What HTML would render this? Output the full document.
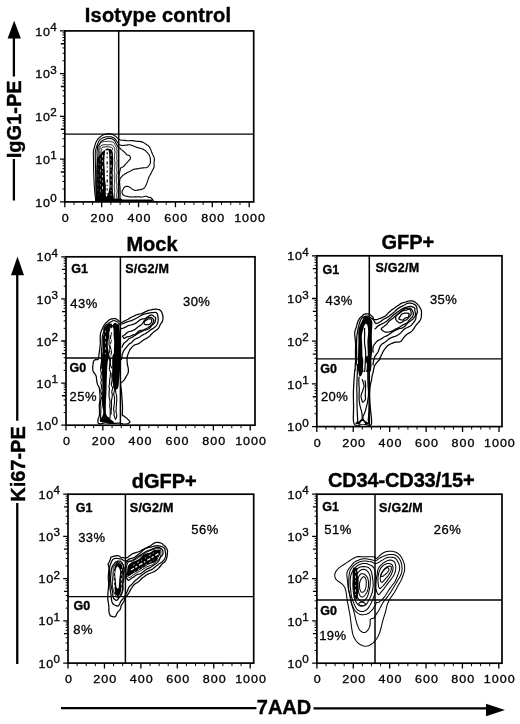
<!DOCTYPE html>
<html><head><meta charset="utf-8"><title>Figure</title>
<style>html,body{margin:0;padding:0;background:#fff}svg{display:block}</style></head>
<body>
<svg width="520" height="724" viewBox="0 0 520 724" font-family='"Liberation Sans", Arial, Helvetica, sans-serif' fill="#000">
<rect width="520" height="724" fill="#fff"/>
<rect x="64.8" y="30.9" width="188.90" height="171.00" fill="none" stroke="#000" stroke-width="1.7"/>
<line x1="118.7" y1="30.9" x2="118.7" y2="201.9" stroke="#000" stroke-width="1.5"/>
<line x1="64.8" y1="134.1" x2="253.7" y2="134.1" stroke="#000" stroke-width="1.4"/>
<path d="M60.00 201.90H64.8 M60.80 172.02H64.8 M60.00 159.15H64.8 M60.80 129.27H64.8 M60.00 116.40H64.8 M60.80 86.52H64.8 M60.00 73.65H64.8 M60.80 43.77H64.8 M60.00 30.90H64.8 M64.80 201.9V207.30 M101.68 201.9V207.30 M138.56 201.9V207.30 M175.44 201.9V207.30 M212.32 201.9V207.30 M249.20 201.9V207.30" stroke="#000" stroke-width="1.3" fill="none"/>
<path d="M62.50 189.03H64.8 M62.50 181.50H64.8 M62.50 176.16H64.8 M62.50 168.63H64.8 M62.50 165.77H64.8 M62.50 163.29H64.8 M62.50 161.11H64.8 M62.50 146.28H64.8 M62.50 138.75H64.8 M62.50 133.41H64.8 M62.50 125.88H64.8 M62.50 123.02H64.8 M62.50 120.54H64.8 M62.50 118.36H64.8 M62.50 103.53H64.8 M62.50 96.00H64.8 M62.50 90.66H64.8 M62.50 83.13H64.8 M62.50 80.27H64.8 M62.50 77.79H64.8 M62.50 75.61H64.8 M62.50 60.78H64.8 M62.50 53.25H64.8 M62.50 47.91H64.8 M62.50 40.38H64.8 M62.50 37.52H64.8 M62.50 35.04H64.8 M62.50 32.86H64.8 M74.02 201.9V204.90 M83.24 201.9V204.90 M92.46 201.9V204.90 M110.90 201.9V204.90 M120.12 201.9V204.90 M129.34 201.9V204.90 M147.78 201.9V204.90 M157.00 201.9V204.90 M166.22 201.9V204.90 M184.66 201.9V204.90 M193.88 201.9V204.90 M203.10 201.9V204.90 M221.54 201.9V204.90 M230.76 201.9V204.90 M239.98 201.9V204.90" stroke="#000" stroke-width="1.0" fill="none"/>
<text transform="translate(35.30 206.50) scale(1.12 1)" font-size="11.2" letter-spacing="0.6" stroke="#000" stroke-width="0.3">10<tspan font-size="10.4" dy="-4.6" dx="-0.3">0</tspan></text>
<text transform="translate(35.30 163.75) scale(1.12 1)" font-size="11.2" letter-spacing="0.6" stroke="#000" stroke-width="0.3">10<tspan font-size="10.4" dy="-4.6" dx="-0.3">1</tspan></text>
<text transform="translate(35.30 121.00) scale(1.12 1)" font-size="11.2" letter-spacing="0.6" stroke="#000" stroke-width="0.3">10<tspan font-size="10.4" dy="-4.6" dx="-0.3">2</tspan></text>
<text transform="translate(35.30 78.25) scale(1.12 1)" font-size="11.2" letter-spacing="0.6" stroke="#000" stroke-width="0.3">10<tspan font-size="10.4" dy="-4.6" dx="-0.3">3</tspan></text>
<text transform="translate(35.30 35.50) scale(1.12 1)" font-size="11.2" letter-spacing="0.6" stroke="#000" stroke-width="0.3">10<tspan font-size="10.4" dy="-4.6" dx="-0.3">4</tspan></text>
<text transform="translate(65.70 222.10) scale(1.12 1)" font-size="11.2" text-anchor="middle" letter-spacing="0.9" stroke="#000" stroke-width="0.3">0</text>
<text transform="translate(102.58 222.10) scale(1.12 1)" font-size="11.2" text-anchor="middle" letter-spacing="0.9" stroke="#000" stroke-width="0.3">200</text>
<text transform="translate(139.46 222.10) scale(1.12 1)" font-size="11.2" text-anchor="middle" letter-spacing="0.9" stroke="#000" stroke-width="0.3">400</text>
<text transform="translate(176.34 222.10) scale(1.12 1)" font-size="11.2" text-anchor="middle" letter-spacing="0.9" stroke="#000" stroke-width="0.3">600</text>
<text transform="translate(213.22 222.10) scale(1.12 1)" font-size="11.2" text-anchor="middle" letter-spacing="0.9" stroke="#000" stroke-width="0.3">800</text>
<text transform="translate(250.10 222.10) scale(1.12 1)" font-size="11.2" text-anchor="middle" letter-spacing="0.9" stroke="#000" stroke-width="0.3">1000</text>
<text x="84.8" y="21.5" font-size="20" font-weight="bold" letter-spacing="0.2" stroke="#000" stroke-width="0.4">Isotype control</text>
<rect x="66.0" y="256.8" width="189.00" height="168.40" fill="none" stroke="#000" stroke-width="1.7"/>
<line x1="120.4" y1="256.8" x2="120.4" y2="425.2" stroke="#000" stroke-width="1.5"/>
<line x1="66.0" y1="358.0" x2="255.0" y2="358.0" stroke="#000" stroke-width="1.4"/>
<path d="M61.20 425.20H66.0 M62.00 395.77H66.0 M61.20 383.10H66.0 M62.00 353.67H66.0 M61.20 341.00H66.0 M62.00 311.57H66.0 M61.20 298.90H66.0 M62.00 269.47H66.0 M61.20 256.80H66.0 M66.00 425.2V430.60 M102.84 425.2V430.60 M139.68 425.2V430.60 M176.52 425.2V430.60 M213.36 425.2V430.60 M250.20 425.2V430.60" stroke="#000" stroke-width="1.3" fill="none"/>
<path d="M63.70 412.53H66.0 M63.70 405.11H66.0 M63.70 399.85H66.0 M63.70 392.44H66.0 M63.70 389.62H66.0 M63.70 387.18H66.0 M63.70 385.03H66.0 M63.70 370.43H66.0 M63.70 363.01H66.0 M63.70 357.75H66.0 M63.70 350.34H66.0 M63.70 347.52H66.0 M63.70 345.08H66.0 M63.70 342.93H66.0 M63.70 328.33H66.0 M63.70 320.91H66.0 M63.70 315.65H66.0 M63.70 308.24H66.0 M63.70 305.42H66.0 M63.70 302.98H66.0 M63.70 300.83H66.0 M63.70 286.23H66.0 M63.70 278.81H66.0 M63.70 273.55H66.0 M63.70 266.14H66.0 M63.70 263.32H66.0 M63.70 260.88H66.0 M63.70 258.73H66.0 M75.21 425.2V428.20 M84.42 425.2V428.20 M93.63 425.2V428.20 M112.05 425.2V428.20 M121.26 425.2V428.20 M130.47 425.2V428.20 M148.89 425.2V428.20 M158.10 425.2V428.20 M167.31 425.2V428.20 M185.73 425.2V428.20 M194.94 425.2V428.20 M204.15 425.2V428.20 M222.57 425.2V428.20 M231.78 425.2V428.20 M240.99 425.2V428.20" stroke="#000" stroke-width="1.0" fill="none"/>
<text transform="translate(36.50 429.80) scale(1.12 1)" font-size="11.2" letter-spacing="0.6" stroke="#000" stroke-width="0.3">10<tspan font-size="10.4" dy="-4.6" dx="-0.3">0</tspan></text>
<text transform="translate(36.50 387.70) scale(1.12 1)" font-size="11.2" letter-spacing="0.6" stroke="#000" stroke-width="0.3">10<tspan font-size="10.4" dy="-4.6" dx="-0.3">1</tspan></text>
<text transform="translate(36.50 345.60) scale(1.12 1)" font-size="11.2" letter-spacing="0.6" stroke="#000" stroke-width="0.3">10<tspan font-size="10.4" dy="-4.6" dx="-0.3">2</tspan></text>
<text transform="translate(36.50 303.50) scale(1.12 1)" font-size="11.2" letter-spacing="0.6" stroke="#000" stroke-width="0.3">10<tspan font-size="10.4" dy="-4.6" dx="-0.3">3</tspan></text>
<text transform="translate(36.50 261.40) scale(1.12 1)" font-size="11.2" letter-spacing="0.6" stroke="#000" stroke-width="0.3">10<tspan font-size="10.4" dy="-4.6" dx="-0.3">4</tspan></text>
<text transform="translate(66.90 445.40) scale(1.12 1)" font-size="11.2" text-anchor="middle" letter-spacing="0.9" stroke="#000" stroke-width="0.3">0</text>
<text transform="translate(103.74 445.40) scale(1.12 1)" font-size="11.2" text-anchor="middle" letter-spacing="0.9" stroke="#000" stroke-width="0.3">200</text>
<text transform="translate(140.58 445.40) scale(1.12 1)" font-size="11.2" text-anchor="middle" letter-spacing="0.9" stroke="#000" stroke-width="0.3">400</text>
<text transform="translate(177.42 445.40) scale(1.12 1)" font-size="11.2" text-anchor="middle" letter-spacing="0.9" stroke="#000" stroke-width="0.3">600</text>
<text transform="translate(214.26 445.40) scale(1.12 1)" font-size="11.2" text-anchor="middle" letter-spacing="0.9" stroke="#000" stroke-width="0.3">800</text>
<text transform="translate(251.10 445.40) scale(1.12 1)" font-size="11.2" text-anchor="middle" letter-spacing="0.9" stroke="#000" stroke-width="0.3">1000</text>
<text x="126.4" y="250.6" font-size="20" font-weight="bold" letter-spacing="0" stroke="#000" stroke-width="0.4">Mock</text>
<rect x="316.8" y="255.8" width="185.20" height="170.80" fill="none" stroke="#000" stroke-width="1.7"/>
<line x1="369.3" y1="255.8" x2="369.3" y2="426.6" stroke="#000" stroke-width="1.5"/>
<line x1="316.8" y1="358.9" x2="502.0" y2="358.9" stroke="#000" stroke-width="1.4"/>
<path d="M312.00 426.60H316.8 M312.80 396.75H316.8 M312.00 383.90H316.8 M312.80 354.05H316.8 M312.00 341.20H316.8 M312.80 311.35H316.8 M312.00 298.50H316.8 M312.80 268.65H316.8 M312.00 255.80H316.8 M316.80 426.6V432.00 M353.24 426.6V432.00 M389.68 426.6V432.00 M426.12 426.6V432.00 M462.56 426.6V432.00 M499.00 426.6V432.00" stroke="#000" stroke-width="1.3" fill="none"/>
<path d="M314.50 413.75H316.8 M314.50 406.23H316.8 M314.50 400.89H316.8 M314.50 393.37H316.8 M314.50 390.51H316.8 M314.50 388.04H316.8 M314.50 385.85H316.8 M314.50 371.05H316.8 M314.50 363.53H316.8 M314.50 358.19H316.8 M314.50 350.67H316.8 M314.50 347.81H316.8 M314.50 345.34H316.8 M314.50 343.15H316.8 M314.50 328.35H316.8 M314.50 320.83H316.8 M314.50 315.49H316.8 M314.50 307.97H316.8 M314.50 305.11H316.8 M314.50 302.64H316.8 M314.50 300.45H316.8 M314.50 285.65H316.8 M314.50 278.13H316.8 M314.50 272.79H316.8 M314.50 265.27H316.8 M314.50 262.41H316.8 M314.50 259.94H316.8 M314.50 257.75H316.8 M325.91 426.6V429.60 M335.02 426.6V429.60 M344.13 426.6V429.60 M362.35 426.6V429.60 M371.46 426.6V429.60 M380.57 426.6V429.60 M398.79 426.6V429.60 M407.90 426.6V429.60 M417.01 426.6V429.60 M435.23 426.6V429.60 M444.34 426.6V429.60 M453.45 426.6V429.60 M471.67 426.6V429.60 M480.78 426.6V429.60 M489.89 426.6V429.60" stroke="#000" stroke-width="1.0" fill="none"/>
<text transform="translate(287.30 431.20) scale(1.12 1)" font-size="11.2" letter-spacing="0.6" stroke="#000" stroke-width="0.3">10<tspan font-size="10.4" dy="-4.6" dx="-0.3">0</tspan></text>
<text transform="translate(287.30 388.50) scale(1.12 1)" font-size="11.2" letter-spacing="0.6" stroke="#000" stroke-width="0.3">10<tspan font-size="10.4" dy="-4.6" dx="-0.3">1</tspan></text>
<text transform="translate(287.30 345.80) scale(1.12 1)" font-size="11.2" letter-spacing="0.6" stroke="#000" stroke-width="0.3">10<tspan font-size="10.4" dy="-4.6" dx="-0.3">2</tspan></text>
<text transform="translate(287.30 303.10) scale(1.12 1)" font-size="11.2" letter-spacing="0.6" stroke="#000" stroke-width="0.3">10<tspan font-size="10.4" dy="-4.6" dx="-0.3">3</tspan></text>
<text transform="translate(287.30 260.40) scale(1.12 1)" font-size="11.2" letter-spacing="0.6" stroke="#000" stroke-width="0.3">10<tspan font-size="10.4" dy="-4.6" dx="-0.3">4</tspan></text>
<text transform="translate(317.70 446.80) scale(1.12 1)" font-size="11.2" text-anchor="middle" letter-spacing="0.9" stroke="#000" stroke-width="0.3">0</text>
<text transform="translate(354.14 446.80) scale(1.12 1)" font-size="11.2" text-anchor="middle" letter-spacing="0.9" stroke="#000" stroke-width="0.3">200</text>
<text transform="translate(390.58 446.80) scale(1.12 1)" font-size="11.2" text-anchor="middle" letter-spacing="0.9" stroke="#000" stroke-width="0.3">400</text>
<text transform="translate(427.02 446.80) scale(1.12 1)" font-size="11.2" text-anchor="middle" letter-spacing="0.9" stroke="#000" stroke-width="0.3">600</text>
<text transform="translate(463.46 446.80) scale(1.12 1)" font-size="11.2" text-anchor="middle" letter-spacing="0.9" stroke="#000" stroke-width="0.3">800</text>
<text transform="translate(499.90 446.80) scale(1.12 1)" font-size="11.2" text-anchor="middle" letter-spacing="0.9" stroke="#000" stroke-width="0.3">1000</text>
<text x="381.5" y="249.4" font-size="20" font-weight="bold" letter-spacing="0" stroke="#000" stroke-width="0.4">GFP+</text>
<rect x="68.0" y="494.2" width="185.70" height="168.90" fill="none" stroke="#000" stroke-width="1.7"/>
<line x1="125.4" y1="494.2" x2="125.4" y2="663.1" stroke="#000" stroke-width="1.5"/>
<line x1="68.0" y1="596.6" x2="253.7" y2="596.6" stroke="#000" stroke-width="1.4"/>
<path d="M63.20 663.10H68.0 M64.00 633.59H68.0 M63.20 620.88H68.0 M64.00 591.36H68.0 M63.20 578.65H68.0 M64.00 549.14H68.0 M63.20 536.42H68.0 M64.00 506.91H68.0 M63.20 494.20H68.0 M68.00 663.1V668.50 M104.44 663.1V668.50 M140.88 663.1V668.50 M177.32 663.1V668.50 M213.76 663.1V668.50 M250.20 663.1V668.50" stroke="#000" stroke-width="1.3" fill="none"/>
<path d="M65.70 650.39H68.0 M65.70 642.95H68.0 M65.70 637.68H68.0 M65.70 630.24H68.0 M65.70 627.42H68.0 M65.70 624.97H68.0 M65.70 622.81H68.0 M65.70 608.16H68.0 M65.70 600.73H68.0 M65.70 595.45H68.0 M65.70 588.02H68.0 M65.70 585.19H68.0 M65.70 582.74H68.0 M65.70 580.58H68.0 M65.70 565.94H68.0 M65.70 558.50H68.0 M65.70 553.23H68.0 M65.70 545.79H68.0 M65.70 542.97H68.0 M65.70 540.52H68.0 M65.70 538.36H68.0 M65.70 523.71H68.0 M65.70 516.28H68.0 M65.70 511.00H68.0 M65.70 503.57H68.0 M65.70 500.74H68.0 M65.70 498.29H68.0 M65.70 496.13H68.0 M77.11 663.1V666.10 M86.22 663.1V666.10 M95.33 663.1V666.10 M113.55 663.1V666.10 M122.66 663.1V666.10 M131.77 663.1V666.10 M149.99 663.1V666.10 M159.10 663.1V666.10 M168.21 663.1V666.10 M186.43 663.1V666.10 M195.54 663.1V666.10 M204.65 663.1V666.10 M222.87 663.1V666.10 M231.98 663.1V666.10 M241.09 663.1V666.10" stroke="#000" stroke-width="1.0" fill="none"/>
<text transform="translate(38.50 667.70) scale(1.12 1)" font-size="11.2" letter-spacing="0.6" stroke="#000" stroke-width="0.3">10<tspan font-size="10.4" dy="-4.6" dx="-0.3">0</tspan></text>
<text transform="translate(38.50 625.48) scale(1.12 1)" font-size="11.2" letter-spacing="0.6" stroke="#000" stroke-width="0.3">10<tspan font-size="10.4" dy="-4.6" dx="-0.3">1</tspan></text>
<text transform="translate(38.50 583.25) scale(1.12 1)" font-size="11.2" letter-spacing="0.6" stroke="#000" stroke-width="0.3">10<tspan font-size="10.4" dy="-4.6" dx="-0.3">2</tspan></text>
<text transform="translate(38.50 541.02) scale(1.12 1)" font-size="11.2" letter-spacing="0.6" stroke="#000" stroke-width="0.3">10<tspan font-size="10.4" dy="-4.6" dx="-0.3">3</tspan></text>
<text transform="translate(38.50 498.80) scale(1.12 1)" font-size="11.2" letter-spacing="0.6" stroke="#000" stroke-width="0.3">10<tspan font-size="10.4" dy="-4.6" dx="-0.3">4</tspan></text>
<text transform="translate(68.90 683.30) scale(1.12 1)" font-size="11.2" text-anchor="middle" letter-spacing="0.9" stroke="#000" stroke-width="0.3">0</text>
<text transform="translate(105.34 683.30) scale(1.12 1)" font-size="11.2" text-anchor="middle" letter-spacing="0.9" stroke="#000" stroke-width="0.3">200</text>
<text transform="translate(141.78 683.30) scale(1.12 1)" font-size="11.2" text-anchor="middle" letter-spacing="0.9" stroke="#000" stroke-width="0.3">400</text>
<text transform="translate(178.22 683.30) scale(1.12 1)" font-size="11.2" text-anchor="middle" letter-spacing="0.9" stroke="#000" stroke-width="0.3">600</text>
<text transform="translate(214.66 683.30) scale(1.12 1)" font-size="11.2" text-anchor="middle" letter-spacing="0.9" stroke="#000" stroke-width="0.3">800</text>
<text transform="translate(251.10 683.30) scale(1.12 1)" font-size="11.2" text-anchor="middle" letter-spacing="0.9" stroke="#000" stroke-width="0.3">1000</text>
<text x="131.7" y="487.6" font-size="20" font-weight="bold" letter-spacing="0" stroke="#000" stroke-width="0.4">dGFP+</text>
<rect x="316.9" y="494.2" width="185.10" height="169.00" fill="none" stroke="#000" stroke-width="1.7"/>
<line x1="375.0" y1="494.2" x2="375.0" y2="663.2" stroke="#000" stroke-width="1.5"/>
<line x1="316.9" y1="600.0" x2="502.0" y2="600.0" stroke="#000" stroke-width="1.4"/>
<path d="M312.10 663.20H316.9 M312.90 633.67H316.9 M312.10 620.95H316.9 M312.90 591.42H316.9 M312.10 578.70H316.9 M312.90 549.17H316.9 M312.10 536.45H316.9 M312.90 506.92H316.9 M312.10 494.20H316.9 M316.90 663.2V668.60 M353.28 663.2V668.60 M389.66 663.2V668.60 M426.04 663.2V668.60 M462.42 663.2V668.60 M498.80 663.2V668.60" stroke="#000" stroke-width="1.3" fill="none"/>
<path d="M314.60 650.48H316.9 M314.60 643.04H316.9 M314.60 637.76H316.9 M314.60 630.32H316.9 M314.60 627.49H316.9 M314.60 625.04H316.9 M314.60 622.88H316.9 M314.60 608.23H316.9 M314.60 600.79H316.9 M314.60 595.51H316.9 M314.60 588.07H316.9 M314.60 585.24H316.9 M314.60 582.79H316.9 M314.60 580.63H316.9 M314.60 565.98H316.9 M314.60 558.54H316.9 M314.60 553.26H316.9 M314.60 545.82H316.9 M314.60 542.99H316.9 M314.60 540.54H316.9 M314.60 538.38H316.9 M314.60 523.73H316.9 M314.60 516.29H316.9 M314.60 511.01H316.9 M314.60 503.57H316.9 M314.60 500.74H316.9 M314.60 498.29H316.9 M314.60 496.13H316.9 M326.00 663.2V666.20 M335.09 663.2V666.20 M344.19 663.2V666.20 M362.38 663.2V666.20 M371.47 663.2V666.20 M380.56 663.2V666.20 M398.75 663.2V666.20 M407.85 663.2V666.20 M416.94 663.2V666.20 M435.13 663.2V666.20 M444.23 663.2V666.20 M453.32 663.2V666.20 M471.51 663.2V666.20 M480.61 663.2V666.20 M489.71 663.2V666.20" stroke="#000" stroke-width="1.0" fill="none"/>
<text transform="translate(287.40 667.80) scale(1.12 1)" font-size="11.2" letter-spacing="0.6" stroke="#000" stroke-width="0.3">10<tspan font-size="10.4" dy="-4.6" dx="-0.3">0</tspan></text>
<text transform="translate(287.40 625.55) scale(1.12 1)" font-size="11.2" letter-spacing="0.6" stroke="#000" stroke-width="0.3">10<tspan font-size="10.4" dy="-4.6" dx="-0.3">1</tspan></text>
<text transform="translate(287.40 583.30) scale(1.12 1)" font-size="11.2" letter-spacing="0.6" stroke="#000" stroke-width="0.3">10<tspan font-size="10.4" dy="-4.6" dx="-0.3">2</tspan></text>
<text transform="translate(287.40 541.05) scale(1.12 1)" font-size="11.2" letter-spacing="0.6" stroke="#000" stroke-width="0.3">10<tspan font-size="10.4" dy="-4.6" dx="-0.3">3</tspan></text>
<text transform="translate(287.40 498.80) scale(1.12 1)" font-size="11.2" letter-spacing="0.6" stroke="#000" stroke-width="0.3">10<tspan font-size="10.4" dy="-4.6" dx="-0.3">4</tspan></text>
<text transform="translate(317.80 683.40) scale(1.12 1)" font-size="11.2" text-anchor="middle" letter-spacing="0.9" stroke="#000" stroke-width="0.3">0</text>
<text transform="translate(354.18 683.40) scale(1.12 1)" font-size="11.2" text-anchor="middle" letter-spacing="0.9" stroke="#000" stroke-width="0.3">200</text>
<text transform="translate(390.56 683.40) scale(1.12 1)" font-size="11.2" text-anchor="middle" letter-spacing="0.9" stroke="#000" stroke-width="0.3">400</text>
<text transform="translate(426.94 683.40) scale(1.12 1)" font-size="11.2" text-anchor="middle" letter-spacing="0.9" stroke="#000" stroke-width="0.3">600</text>
<text transform="translate(463.32 683.40) scale(1.12 1)" font-size="11.2" text-anchor="middle" letter-spacing="0.9" stroke="#000" stroke-width="0.3">800</text>
<text transform="translate(499.70 683.40) scale(1.12 1)" font-size="11.2" text-anchor="middle" letter-spacing="0.9" stroke="#000" stroke-width="0.3">1000</text>
<text x="328" y="487.2" font-size="20" font-weight="bold" letter-spacing="-0.15" stroke="#000" stroke-width="0.4">CD34-CD33/15+</text>
<path d="M97.2 201.9 96.2 200.2 95.8 197.5 95.7 194.0 95.9 190.0 96.2 185.9 96.3 182.0 96.4 178.2 96.4 174.1 96.4 170.0 96.5 166.2 96.7 162.8 96.8 160.1 97.0 158.3 97.3 157.4 97.6 157.2 97.9 157.4 98.2 157.6 98.5 157.3 98.7 156.7 99.0 156.1 99.3 155.7 99.7 155.3 100.1 154.8 100.5 154.1 100.9 153.4 101.5 152.7 102.1 152.0 102.8 151.5 103.5 151.0 104.2 150.5 104.9 149.9 105.5 149.4 106.1 148.9 106.7 148.7 107.3 148.5 107.8 148.5 108.2 148.6 108.6 148.8 109.0 148.9 109.4 148.9 109.8 148.9 110.0 148.9 110.2 149.0 110.4 149.1 110.7 149.3 111.1 149.4 111.6 149.9 112.2 151.0 112.6 152.9 112.9 155.5 113.1 158.7 113.1 162.1 112.9 165.5 112.8 168.7 112.6 171.8 112.5 175.0 112.4 178.1 112.4 181.4 112.5 184.8 112.6 188.1 112.8 191.4 113.3 194.5 113.7 197.3 113.9 199.7 113.7 201.5 112.8 201.9 111.0 201.9 108.2 201.9 105.0 201.9 101.9 201.9 99.1 201.9Z" fill="#000" stroke="none"/>
<path d="M105.1 151.2 104.9 153.1 104.6 155.7 104.4 158.8 104.3 162.3 104.5 165.8 104.7 168.9 104.8 171.8 104.9 174.6 104.9 177.3 105.1 179.9 105.4 182.4 105.7 184.6 105.9 186.7 105.9 188.8 105.7 190.9 105.7 192.8 105.8 194.5 106.0 195.8 106.2 196.6 106.4 196.9 106.6 196.8 106.9 196.4 107.3 195.6 107.8 194.6 108.3 193.3 108.7 191.7 109.1 189.8 109.4 187.7 109.5 185.6 109.5 183.6 109.4 181.7 109.4 179.6 109.3 177.1 109.4 174.3 109.4 171.3 109.5 168.3 109.5 165.4 109.4 162.4 109.4 159.6 109.3 157.0 109.2 154.6 109.0 152.6 108.8 151.2 108.5 150.3 108.2 150.0 107.9 150.1 107.6 150.4 107.4 150.6 107.0 150.5 106.5 150.3 106.0 150.0 105.7 149.9 105.4 150.3Z" fill="#fff" stroke="none"/>
<path d="M107.2 152.2V195.3" stroke="#000" stroke-width="1.2" stroke-dasharray="2 2.6 1.2 3.4 3 2.2 1 2.8" fill="none"/>
<path d="M98.2 163.0V195.3M100.4 158.3V193.9M102.5 154.9V191.3M111.1 153.6V195.3" stroke="#fff" stroke-width="0.8" stroke-dasharray="2.5 3 1.5 4 3 2 1 3.3" fill="none"/>
<path d="M95.8 201.4 95.8 200.5 95.7 199.5 95.5 198.3 95.3 196.8 95.0 194.9 94.8 192.7 94.6 190.1 94.4 187.4 94.2 184.5 94.1 181.5 93.9 178.5 93.8 175.3 93.7 171.9 93.6 168.3 93.6 164.7 93.5 161.2 93.5 157.9 93.4 155.1 93.3 152.9 93.4 151.2 93.6 149.9 93.9 148.9 94.3 147.8 94.6 146.6 94.9 145.3 95.3 144.2 95.6 143.1 96.0 142.2 96.5 141.4 96.9 140.6 97.4 139.7 98.1 138.8 98.9 138.0 99.8 137.2 100.7 136.5 101.6 135.9 102.5 135.3 103.5 134.8 104.6 134.4 105.7 134.1 106.9 133.9 107.9 133.7 109.0 133.6 110.0 133.7 111.0 133.9 112.0 134.3 113.1 134.8 114.1 135.4 115.2 136.0 116.1 136.6 116.8 137.3 117.4 137.8 117.8 138.3 118.1 138.7 118.4 139.0 118.7 139.3 119.1 139.6 119.6 139.8 120.4 140.0 121.2 140.1 122.3 140.2 123.5 140.2 124.8 140.4 126.0 140.6 127.2 140.7 128.4 140.8 129.6 140.7 130.8 140.6 132.0 140.5 133.2 140.6 134.3 140.9 135.4 141.1 136.4 141.3 137.3 141.4 138.4 141.4 139.6 141.4 140.9 141.6 142.2 141.9 143.4 142.5 144.4 143.1 145.3 143.7 146.1 144.2 146.8 144.7 147.6 145.2 148.4 145.9 149.1 146.7 149.8 147.6 150.3 148.7 150.8 149.7 151.1 150.6 151.5 151.6 151.8 152.6 152.3 153.7 152.8 154.8 153.4 156.0 153.9 157.1 154.3 158.3 154.4 159.5 154.3 160.7 154.1 162.0 154.0 163.2 154.0 164.3 154.1 165.4 154.2 166.3 154.0 167.3 153.6 168.4 153.0 169.4 152.5 170.3 152.0 171.3 151.5 172.4 151.0 173.4 150.3 174.5 149.7 175.7 149.1 176.7 148.7 177.7 148.4 178.5 148.2 179.2 148.0 179.9 147.7 180.7 147.4 181.6 147.0 182.6 146.6 183.7 146.2 184.7 145.7 185.6 145.3 186.5 144.8 187.3 144.3 188.0 143.6 188.5 142.8 188.9 142.0 189.2 141.2 189.4 140.4 189.6 139.6 189.7 138.7 189.9 137.7 190.1 136.8 190.3 135.8 190.5 134.9 190.4 134.0 190.1 133.0 189.6 132.2 189.1 131.4 188.5 130.7 187.9 130.0 187.4 129.4 187.0 128.8 186.7 128.2 186.5 127.6 186.4 126.9 186.4 126.3 186.4 125.7 186.5 125.1 186.7 124.6 187.1 124.1 187.5 123.8 188.0 123.5 188.5 123.3 189.0 123.1 189.4 122.9 189.7 122.7 190.0 122.4 190.5 122.2 191.0 122.0 191.5 122.0 192.1 122.1 192.7 122.2 193.3 122.4 193.9 122.8 194.5 123.3 195.0 124.0 195.4 124.9 195.8 125.9 196.1 127.0 196.3 128.1 196.6 129.3 196.8 130.6 196.9 131.9 197.0 133.0 197.0 134.1 196.9 135.1 196.9 136.1 196.9 137.2 196.8 138.4 196.8 139.6 196.9 140.7 197.0 141.6 197.0 142.5 197.0 143.4 196.8 144.3 196.5 145.3 196.3 146.2 196.3 147.1 196.6 148.0 197.0 148.7 197.4 149.3 197.5 149.7 197.5 150.1 197.4 150.6 197.5 151.2 197.9 151.9 198.7 152.6 199.6 153.1 200.4 153.5 201.0 153.7 201.4" fill="none" stroke="#000" stroke-width="1.1" stroke-linejoin="round"/>
<path d="M96.8 201.4 96.6 199.5 96.3 196.7 96.1 193.4 95.9 189.6 95.8 185.7 95.7 181.8 95.7 177.6 95.6 172.9 95.5 168.0 95.4 163.2 95.3 158.9 95.3 155.5 95.3 153.1 95.4 151.3 95.6 150.1 95.9 149.1 96.1 148.3 96.4 147.3 96.8 146.2 97.2 145.1 97.6 144.0 98.0 143.1 98.4 142.2 98.8 141.3 99.3 140.5 99.9 139.8 100.7 139.1 101.5 138.6 102.3 138.1 103.1 137.8 103.9 137.5 104.8 137.2 105.7 136.9 106.7 136.8 107.7 136.7 108.7 136.7 109.7 136.7 110.6 136.8 111.5 136.9 112.3 137.2 113.0 137.5 113.6 137.8 114.2 138.2 114.7 138.7 115.3 139.2 115.8 139.8 116.2 140.4 116.7 141.0 117.2 141.7 117.6 142.4 118.1 143.2 118.6 143.9 119.0 144.5 119.5 144.8 120.0 145.0 120.3 145.1 120.5 145.2 120.7 145.2 121.1 145.3 121.8 145.4 122.8 145.5 124.0 145.4 125.2 145.3 126.5 145.1 127.6 144.9 128.7 144.7 129.8 144.7 130.9 145.0 132.0 145.4 133.1 145.8 134.2 146.3 135.2 146.7 136.1 147.1 137.1 147.4 138.0 147.7 138.9 147.9 139.9 148.2 140.8 148.5 141.8 148.8 142.8 149.1 143.7 149.6 144.7 150.2 145.6 150.9 146.4 151.6 147.1 152.3 147.7 153.0 148.2 153.8 148.8 154.5 149.3 155.3 149.7 156.1 150.0 156.9 150.1 157.8 150.3 158.6 150.4 159.5 150.4 160.4 150.5 161.2 150.5 162.0 150.4 162.8 150.3 163.4 149.9 164.0 149.5 164.7 149.1 165.3 148.6 165.9 148.2 166.5 147.8 167.0 147.2 167.3 146.6 167.6 145.8 167.7 145.0 167.8 144.2 167.8 143.2 167.9 142.1 168.0 141.0 168.1 139.9 168.3 138.8 168.5 137.9 168.7 137.0 168.9 136.2 168.9 135.5 169.0 134.7 169.1 134.0 169.3 133.2 169.6 132.3 170.0 131.5 170.5 130.6 171.0 129.6 171.5 128.7 171.9 127.8 172.3 126.9 172.7 126.2 173.2 125.6 173.6 124.9 174.0 124.2 174.5 123.6 174.9 123.0 175.2 122.5 175.6 122.2 176.0 122.0 176.4 121.8 176.7 121.4 177.0 121.0 177.4 120.5 178.0 120.1 178.8 119.8 179.8 119.6 181.1 119.6 182.5 119.7 184.0 119.8 185.5 120.0 187.0 120.1 188.5 120.1 190.1 120.1 191.8 120.1 193.4 120.1 195.0 120.1 196.4 120.0 197.6 120.1 198.7 120.4 199.6 120.8 200.2 121.1 200.7 121.3 201.0 121.4 201.4" fill="none" stroke="#000" stroke-width="1.1" stroke-linejoin="round"/>
<path d="M97.3 201.5 97.2 199.5 97.2 196.7 97.1 193.4 97.0 189.6 96.9 185.8 96.9 181.9 97.0 177.6 97.1 172.7 97.2 167.6 97.3 162.8 97.2 158.4 97.1 155.0 97.0 152.6 97.1 151.1 97.2 150.2 97.4 149.5 97.4 148.9 97.5 148.0 97.6 147.0 97.8 146.1 98.3 145.4 98.9 144.8 99.4 144.2 99.9 143.6 100.2 142.9 100.6 142.2 101.1 141.5 101.8 140.9 102.6 140.4 103.5 140.0 104.4 139.6 105.3 139.3 106.1 138.9 106.8 138.7 107.5 138.5 108.3 138.4 109.1 138.4 110.0 138.5 110.9 138.6 111.7 138.8 112.4 139.1 113.2 139.5 113.9 140.0 114.5 140.5 114.9 141.1 115.2 141.7 115.4 142.3 115.7 142.9 116.1 143.4 116.5 144.1 116.9 144.7 117.2 145.4 117.5 146.1 117.8 146.7 118.1 147.1 118.4 147.3 118.7 147.4 119.0 147.5 119.3 147.6 119.6 147.8 120.0 148.2 120.5 148.7 121.0 149.3 121.7 149.9 122.4 150.4 123.2 151.0 123.9 151.6 124.6 152.3 125.2 152.9 125.8 153.6 126.3 154.2 126.8 154.7 127.4 155.0 128.0 155.1 128.7 155.3 129.4 155.6 129.9 156.1 130.3 156.8 130.5 157.5 130.5 158.2 130.3 158.8 129.9 159.5 129.3 160.1 128.8 160.7 128.2 161.3 127.6 161.9 127.2 162.4 126.7 162.9 126.3 163.4 125.8 163.9 125.4 164.4 124.9 164.9 124.5 165.5 124.0 166.0 123.4 166.5 122.7 166.9 122.0 167.2 121.5 167.5 121.0 167.7 120.6 168.1 120.3 168.7 120.2 169.3 120.1 169.8 120.1 170.2 120.0 170.8 119.8 171.4 119.6 172.4 119.2 173.8 119.0 175.7 118.8 178.0 118.7 180.7 118.7 183.4 118.7 186.1 118.7 188.5 118.6 190.9 118.5 193.4 118.5 195.8 118.5 198.0 118.5 200.0 118.5 201.4" fill="none" stroke="#000" stroke-width="1.1" stroke-linejoin="round"/>
<path d="M98.6 202.0 98.6 201.5 98.6 201.0 98.6 200.5 98.6 200.0 98.6 199.5 98.6 199.0 98.5 198.5 98.5 198.2 98.4 197.8 98.4 197.2 98.5 196.8 98.5 196.2 98.5 196.0 98.5 195.5 98.5 195.0 98.5 194.5 98.5 194.0 98.5 193.5 98.5 193.0 98.5 192.8 98.4 192.2 98.4 191.8 98.3 191.2 98.3 190.8 98.3 190.2 98.3 189.8 98.4 189.2 98.4 188.8 98.3 188.2 98.3 187.8 98.3 187.2 98.4 186.8 98.4 186.2 98.4 185.8 98.5 185.2 98.5 184.8 98.5 184.2 98.5 184.0 98.5 183.5 98.5 183.0 98.5 182.8 98.5 182.2 98.4 181.8 98.3 181.2 98.3 180.8 98.2 180.5 98.3 180.2 98.3 179.8 98.4 179.2 98.5 179.0 98.6 178.5 98.6 178.0 98.6 177.5 98.6 177.0 98.6 176.5 98.6 176.0 98.6 175.5 98.5 175.0 98.5 174.5 98.5 174.0 98.5 173.5 98.5 173.2 98.5 172.8 98.4 172.2 98.4 171.8 98.4 171.2 98.5 170.8 98.5 170.2 98.5 169.8 98.5 169.2 98.5 168.8 98.4 168.2 98.4 167.8 98.5 167.2 98.5 166.8 98.5 166.5 98.5 166.0 98.6 165.5 98.6 165.0 98.7 164.5 98.7 164.0 98.7 163.5 98.7 163.0 98.7 162.5 98.6 162.0 98.5 161.5 98.5 161.1 98.5 160.8 98.5 160.2 98.5 159.8 98.5 159.5 98.5 159.0 98.5 158.5 98.6 158.0 98.6 157.5 98.6 157.0 98.6 156.5 98.6 156.0 98.6 155.5 98.6 155.0 98.6 154.5 98.6 154.0 98.6 153.5 98.5 153.0 98.5 152.5 98.5 152.2 98.5 151.8 98.4 151.2 98.4 150.8 98.5 150.2 98.5 150.0 98.6 149.5 98.7 149.0 98.7 148.5 98.8 148.2 98.8 147.8 98.9 147.2 99.0 146.8 99.0 146.5 99.1 146.0 99.1 145.5 99.2 145.2 99.5 144.8 99.6 144.5 99.8 144.2 100.0 143.8 100.1 143.5 100.2 143.0 100.4 142.8 100.6 142.5 100.8 142.2 101.2 142.1 101.8 142.1 102.2 142.0 102.5 142.0 103.0 141.8 103.2 141.7 103.8 141.6 104.1 141.5 104.5 141.5 105.0 141.5 105.2 141.5 105.8 141.6 106.2 141.6 106.8 141.6 107.1 141.5 107.5 141.4 107.9 141.2 108.2 141.2 108.8 141.2 109.2 141.2 109.5 141.3 110.0 141.5 110.2 141.6 110.8 141.7 111.2 141.7 111.5 141.8 112.0 141.8 112.5 141.9 112.8 142.1 113.1 142.2 113.4 142.5 113.7 142.8 114.0 143.0 114.2 143.2 114.4 143.5 114.5 143.8 114.7 144.2 114.8 144.5 115.0 144.9 115.2 145.2 115.3 145.5 115.5 145.8 115.8 146.2 115.9 146.5 116.1 146.8 116.3 147.0 116.5 147.5 116.6 147.8 116.7 148.2 116.8 148.5 116.8 149.0 116.8 149.5 116.9 150.0 117.0 150.5 117.1 150.8 117.1 151.2 117.0 151.8 117.0 152.0 116.9 152.5 116.8 153.0 116.8 153.5 116.8 154.0 116.8 154.5 116.8 155.0 116.9 155.5 116.9 156.0 116.9 156.5 116.9 157.0 116.8 157.5 116.7 157.8 116.6 158.2 116.6 158.8 116.8 159.1 116.9 159.5 117.0 159.8 117.1 160.2 117.1 160.8 117.1 161.2 117.0 161.7 117.0 162.0 116.9 162.5 116.9 163.0 116.9 163.5 116.9 164.0 117.0 164.5 117.0 164.8 117.1 165.2 117.0 165.8 117.0 166.2 116.9 166.5 116.9 167.0 116.8 167.5 116.8 168.0 116.7 168.2 116.7 168.8 116.7 169.2 116.6 169.8 116.7 170.2 116.8 170.7 116.8 171.0 116.9 171.5 117.0 171.9 117.1 172.2 117.1 172.8 117.1 173.2 117.0 173.8 117.0 174.0 116.8 174.5 116.7 174.8 116.6 175.2 116.6 175.8 116.7 176.2 116.7 176.8 116.8 177.2 116.8 177.4 116.7 177.8 116.7 178.2 116.6 178.8 116.6 179.2 116.5 179.6 116.4 180.0 116.4 180.5 116.3 181.0 116.3 181.5 116.4 182.0 116.5 182.3 116.6 182.8 116.8 183.1 116.9 183.5 117.0 184.0 117.0 184.5 116.9 185.0 116.8 185.5 116.8 185.9 116.7 186.2 116.7 186.8 116.7 187.2 116.7 187.8 116.8 188.0 116.8 188.5 116.9 189.0 117.0 189.5 117.0 189.8 117.1 190.2 117.2 190.8 117.2 191.2 117.2 191.8 117.1 192.2 117.0 192.5 116.8 193.0 116.8 193.5 116.7 193.8 116.7 194.2 116.7 194.8 116.7 195.2 116.7 195.8 116.8 196.0 116.8 196.5 116.8 197.0 116.9 197.5 116.9 198.0 116.8 198.5 116.8 199.0 116.8 199.5 116.9 200.0 117.0 200.5 117.1 200.8 117.2 201.2 117.2 201.6 117.3 202.0" fill="none" stroke="#000" stroke-width="0.95" stroke-linejoin="round"/>
<path d="M99.8 202.0 99.8 201.5 99.8 201.0 99.8 200.5 99.8 200.0 99.7 199.8 99.7 199.2 99.6 198.8 99.5 198.2 99.5 198.0 99.4 197.5 99.4 197.0 99.5 196.5 99.5 196.0 99.5 195.8 99.6 195.2 99.6 194.8 99.6 194.2 99.7 193.8 99.7 193.2 99.7 192.8 99.6 192.2 99.6 191.8 99.6 191.2 99.6 190.8 99.6 190.2 99.7 189.8 99.6 189.2 99.6 188.8 99.6 188.2 99.6 187.8 99.6 187.2 99.7 186.8 99.7 186.2 99.8 186.0 99.8 185.5 99.8 185.0 99.8 184.5 99.8 184.0 99.7 183.8 99.7 183.2 99.7 182.8 99.7 182.2 99.7 181.8 99.6 181.2 99.6 180.8 99.7 180.2 99.8 179.9 99.9 179.5 100.0 179.0 100.0 178.8 100.0 178.2 100.0 178.0 99.9 177.5 99.8 177.0 99.8 176.6 99.7 176.2 99.7 175.8 99.6 175.2 99.6 174.8 99.6 174.2 99.6 173.8 99.6 173.2 99.6 172.8 99.6 172.2 99.7 171.8 99.7 171.2 99.8 170.9 99.8 170.5 99.8 170.0 99.8 169.5 99.8 169.0 99.8 168.5 99.7 168.2 99.7 167.8 99.7 167.2 99.7 166.8 99.7 166.2 99.7 165.8 99.8 165.5 99.9 165.0 100.0 164.5 100.0 164.2 100.0 163.8 100.0 163.4 100.0 163.0 99.9 162.5 99.9 162.0 99.8 161.5 99.8 161.0 99.8 160.7 99.7 160.2 99.8 160.0 99.8 159.5 99.8 159.0 99.9 158.5 99.9 158.0 99.9 157.5 99.8 157.0 99.8 156.5 99.8 156.0 99.8 155.5 99.8 155.0 99.8 154.5 99.8 154.0 99.8 153.5 99.7 153.2 99.7 152.8 99.7 152.2 99.7 151.8 99.7 151.2 99.7 150.8 99.8 150.5 99.8 150.0 99.9 149.5 99.9 149.0 99.9 148.5 100.0 148.0 100.0 147.8 100.2 147.2 100.2 146.9 100.4 146.5 100.5 146.2 100.8 145.9 101.0 145.6 101.2 145.5 101.8 145.3 102.0 145.2 102.5 145.1 102.9 145.0 103.2 144.9 103.8 144.8 104.2 144.8 104.5 144.7 105.0 144.7 105.5 144.6 106.0 144.7 106.2 144.8 106.8 144.9 107.2 144.9 107.8 144.9 108.2 144.8 108.5 144.7 109.0 144.6 109.5 144.6 110.0 144.7 110.5 144.7 110.9 144.8 111.2 144.8 111.8 145.0 112.0 145.1 112.4 145.2 112.7 145.5 113.0 145.8 113.2 146.0 113.4 146.2 113.6 146.5 113.8 146.8 114.0 147.0 114.2 147.4 114.5 147.8 114.6 148.0 114.7 148.5 114.8 148.8 114.8 149.2 114.8 149.8 114.8 150.2 114.8 150.8 114.9 151.2 114.9 151.8 114.9 152.2 114.9 152.8 114.8 153.2 114.8 153.7 114.7 154.0 114.6 154.5 114.5 154.8 114.5 155.2 114.5 155.7 114.5 156.0 114.6 156.5 114.5 157.0 114.5 157.4 114.4 157.8 114.4 158.2 114.4 158.8 114.4 159.2 114.5 159.8 114.5 160.0 114.6 160.5 114.7 161.0 114.8 161.3 114.8 161.8 114.9 162.2 114.9 162.8 114.9 163.2 114.9 163.8 114.8 164.2 114.8 164.8 114.8 165.2 114.8 165.8 114.8 166.1 114.7 166.5 114.7 167.0 114.7 167.5 114.7 168.0 114.6 168.5 114.5 169.0 114.5 169.2 114.4 169.8 114.4 170.2 114.4 170.8 114.4 171.2 114.4 171.8 114.5 172.2 114.5 172.5 114.7 173.0 114.8 173.5 114.8 173.8 114.8 174.2 114.7 174.5 114.7 175.0 114.7 175.5 114.8 176.0 114.8 176.2 114.8 176.8 114.8 177.2 114.8 177.8 114.8 178.2 114.7 178.5 114.7 179.0 114.7 179.5 114.7 180.0 114.6 180.5 114.6 181.0 114.5 181.5 114.5 182.0 114.6 182.5 114.6 183.0 114.6 183.5 114.5 184.0 114.5 184.2 114.3 184.8 114.2 185.1 114.2 185.5 114.2 186.0 114.2 186.5 114.2 187.0 114.3 187.2 114.3 187.8 114.4 188.2 114.4 188.8 114.5 189.2 114.5 189.8 114.5 190.0 114.6 190.5 114.6 191.0 114.7 191.5 114.6 192.0 114.5 192.5 114.5 192.8 114.4 193.2 114.4 193.8 114.4 194.2 114.5 194.8 114.5 195.2 114.5 195.5 114.6 196.0 114.6 196.5 114.6 197.0 114.6 197.5 114.6 198.0 114.6 198.5 114.6 199.0 114.6 199.5 114.6 200.0 114.5 200.3 114.4 200.8 114.3 201.2 114.2 201.5 114.2 202.0" fill="none" stroke="#000" stroke-width="0.95" stroke-linejoin="round"/>
<path d="M101.2 202.0 101.2 201.5 101.0 201.0 101.0 200.8 100.9 200.2 100.8 199.8 100.8 199.4 100.7 199.0 100.7 198.5 100.7 198.0 100.7 197.5 100.7 197.0 100.7 196.5 100.7 196.0 100.7 195.5 100.7 195.0 100.7 194.5 100.8 194.2 100.8 193.8 100.9 193.2 101.0 192.8 101.0 192.5 101.0 192.0 101.0 191.7 101.0 191.2 101.0 190.8 101.0 190.4 101.1 190.0 101.1 189.5 101.0 189.1 101.0 188.8 101.0 188.2 101.0 187.8 101.0 187.5 101.3 187.2 101.5 187.0 101.7 186.5 101.7 186.0 101.7 185.5 101.5 185.0 101.4 184.8 101.2 184.3 101.1 184.0 101.0 183.7 101.0 183.2 100.9 182.8 100.9 182.2 100.9 181.8 100.9 181.2 100.9 180.8 101.0 180.4 101.2 180.1 101.5 179.8 101.8 179.5 101.9 179.2 102.0 179.0 102.1 178.5 102.1 178.0 102.1 177.5 102.0 177.2 101.8 177.0 101.4 176.8 101.0 176.5 100.9 176.2 100.9 175.8 100.8 175.2 100.8 174.8 100.8 174.2 100.8 173.8 100.8 173.2 100.9 172.8 101.0 172.2 101.2 172.1 101.6 172.0 102.0 171.8 102.1 171.5 102.2 171.1 102.2 171.0 102.1 170.5 102.0 170.2 101.8 170.0 101.5 169.6 101.2 169.3 101.1 169.0 101.0 168.7 101.0 168.2 100.9 167.8 100.9 167.2 100.9 166.8 100.9 166.2 101.0 165.8 101.0 165.5 101.2 165.1 101.4 164.8 101.5 164.2 101.5 163.8 101.5 163.7 101.5 163.2 101.4 162.8 101.4 162.2 101.3 161.8 101.2 161.3 101.2 161.0 101.1 160.5 101.1 160.0 101.1 159.5 101.2 159.1 101.4 158.8 101.6 158.5 101.8 158.2 102.0 157.9 102.2 157.5 102.3 157.2 102.2 157.0 102.0 156.8 101.6 156.5 101.2 156.3 101.0 156.0 101.0 155.8 100.9 155.2 101.0 154.8 101.0 154.2 101.0 153.8 101.0 153.2 101.0 152.8 101.0 152.2 101.0 151.8 101.1 151.5 101.2 151.1 101.5 150.8 101.7 150.5 101.8 150.2 101.8 149.8 101.8 149.5 101.6 149.0 101.5 148.8 101.5 148.2 101.6 148.0 101.8 147.8 102.1 147.5 102.5 147.3 102.8 147.2 103.2 147.1 103.8 147.0 104.0 147.0 104.5 147.0 105.0 146.9 105.5 146.8 106.0 146.8 106.5 146.8 107.0 146.8 107.5 146.8 108.0 146.8 108.5 146.8 109.0 146.9 109.5 147.0 109.8 147.0 110.2 147.1 110.6 147.2 111.0 147.4 111.3 147.5 111.8 147.7 112.0 147.8 112.4 148.0 112.6 148.2 112.7 148.8 112.7 149.2 112.5 149.8 112.2 150.0 112.0 150.0 111.6 150.2 111.5 150.5 111.5 150.9 111.6 151.2 111.8 151.6 112.0 152.0 112.1 152.2 112.2 152.7 112.4 153.0 112.4 153.5 112.3 154.0 112.2 154.4 112.2 154.8 112.2 155.2 112.3 155.5 112.4 156.0 112.5 156.2 112.6 156.8 112.6 157.2 112.5 157.8 112.5 158.0 112.2 158.4 112.0 158.8 111.8 159.0 111.7 159.2 111.5 159.8 111.5 160.0 111.5 160.2 111.7 160.8 111.9 161.0 112.0 161.2 112.2 161.6 112.5 162.0 112.5 162.2 112.7 162.8 112.7 163.2 112.7 163.8 112.7 164.2 112.6 164.8 112.6 165.2 112.6 165.8 112.5 166.2 112.5 166.7 112.5 167.0 112.4 167.5 112.4 168.0 112.3 168.5 112.2 168.9 112.1 169.2 112.0 169.6 111.8 170.0 111.8 170.5 111.8 171.0 111.8 171.5 111.8 172.0 111.7 172.2 111.6 172.8 111.6 173.2 111.8 173.6 112.0 174.0 112.2 174.2 112.4 174.5 112.5 174.8 112.7 175.2 112.7 175.8 112.8 176.2 112.8 176.5 112.7 176.8 112.7 177.2 112.7 177.8 112.6 178.2 112.6 178.8 112.6 179.2 112.6 179.8 112.5 180.2 112.4 180.5 112.4 181.0 112.4 181.5 112.4 182.0 112.4 182.5 112.4 183.0 112.4 183.5 112.4 184.0 112.3 184.5 112.3 185.0 112.2 185.3 112.1 185.8 112.0 186.1 111.9 186.5 111.8 186.8 111.6 187.2 111.7 187.8 111.8 188.0 112.0 188.4 112.2 188.7 112.4 189.0 112.5 189.5 112.4 190.0 112.3 190.5 112.2 190.8 112.1 191.2 112.0 191.7 112.0 192.0 112.0 192.5 112.0 192.8 112.1 193.2 112.2 193.6 112.4 194.0 112.5 194.5 112.5 194.8 112.6 195.2 112.6 195.8 112.6 196.2 112.5 196.6 112.4 197.0 112.3 197.5 112.2 197.8 112.1 198.2 112.1 198.8 112.0 199.2 111.9 199.5 111.7 199.8 111.5 200.0 111.2 200.4 111.1 200.8 111.0 201.0 110.9 201.5 110.9 202.0" fill="none" stroke="#000" stroke-width="0.95" stroke-linejoin="round"/>
<path d="M95 200.3H122" stroke="#000" stroke-width="3.2"/>
<path d="M121 200.70000000000002H152.5" stroke="#000" stroke-width="2.4"/>
<path d="M111.7 318.9 112.6 318.8 113.6 318.6 114.5 318.5 115.2 318.5 115.8 318.7 116.3 319.0 117.0 319.5 117.7 320.1 118.6 320.8 119.4 321.5 120.2 322.1 120.9 322.3 121.6 322.3 122.4 322.0 123.3 321.6 124.2 321.1 125.1 320.7 126.0 320.3 126.9 319.8 128.1 319.2 129.4 318.4 130.9 317.5 132.2 316.8 133.5 316.2 134.8 315.6 136.0 315.0 137.3 314.6 138.6 314.2 140.1 314.0 141.6 313.6 143.1 312.9 144.7 312.1 146.3 311.3 147.9 310.7 149.2 310.2 150.4 310.0 151.3 309.8 152.2 309.6 153.1 309.4 154.0 309.3 154.9 309.1 155.8 309.1 156.6 309.2 157.4 309.4 158.2 309.5 159.0 309.6 159.7 309.9 160.3 310.4 161.0 311.0 161.5 311.8 161.9 312.7 162.3 313.7 162.6 314.7 162.8 315.6 162.9 316.6 163.0 317.6 162.9 318.7 162.8 319.9 162.5 321.0 162.1 321.9 161.6 322.7 161.1 323.4 160.5 324.2 160.0 325.1 159.6 326.1 159.1 327.2 158.5 328.2 157.8 329.0 156.9 329.8 155.8 330.5 154.7 331.2 153.7 332.1 152.8 332.9 151.9 333.7 151.1 334.5 150.3 335.4 149.5 336.2 148.6 337.0 147.4 337.8 146.1 338.6 144.8 339.3 143.5 340.0 142.5 340.7 141.5 341.4 140.6 342.2 139.6 343.0 138.4 343.6 137.2 344.2 136.0 344.5 134.9 344.9 134.0 345.3 133.2 345.9 132.5 346.6 131.7 347.4 131.0 348.3 130.3 349.2 129.7 350.1 129.3 351.0 129.0 351.8 128.6 352.7 128.3 353.5 127.9 354.4 127.6 355.4 127.3 356.6 127.1 358.0 127.0 359.6 127.1 361.4 127.3 363.2 127.5 364.9 127.9 366.6 128.2 368.2 128.4 369.9 128.4 371.3 128.2 372.5 127.9 373.5 127.5 374.2 127.2 374.8 126.8 375.4 126.4 376.0 126.0 376.8 125.6 377.7 125.1 378.4 124.7 379.1 124.2 379.8 123.7 380.4 123.1 381.1 122.5 381.7 121.9 382.0 121.4 382.3 120.9 382.7 120.7 383.3 120.6 384.4 120.8 386.4 121.2 389.0 121.5 392.1 121.8 395.6 122.0 399.0 122.2 402.0 122.4 404.6 122.5 407.1 122.5 409.4 122.4 411.5 122.3 413.2 122.3 414.6 122.4 415.4 122.4 415.7 122.4 415.7 122.5 415.5 122.7 415.4 123.2 415.6 123.9 416.1 124.8 416.7 125.7 417.4 126.5 418.1 127.3 418.8 127.9 419.4 128.6 420.0 129.2 420.6 129.7 421.3 129.9 421.9 129.7 422.5 129.0 423.1 127.9 423.5 126.4 423.8 124.7 424.0 123.0 423.8 121.3 423.5 119.6 423.2 117.8 423.1 115.8 423.3 113.8 423.4 111.7 423.5 109.9 423.3 108.1 423.1 106.4 422.9 104.6 423.0 102.8 423.3 101.3 423.7 100.0 423.9 99.0 423.7 98.4 423.3 98.0 422.7 97.9 421.9 97.9 421.1 98.0 420.4 98.0 419.7 98.1 419.1 98.3 418.5 98.6 417.8 99.0 416.9 99.3 415.8 99.5 414.4 99.5 412.6 99.5 410.5 99.4 408.3 99.3 406.1 99.4 404.1 99.7 402.1 99.9 400.1 100.0 397.9 100.0 395.7 99.9 393.6 99.7 391.7 99.6 390.0 99.4 388.7 99.2 387.6 98.8 386.6 98.3 385.8 97.8 385.0 97.4 384.0 97.1 382.7 96.8 381.3 96.6 379.8 96.5 378.5 96.4 377.3 96.2 376.4 95.9 375.5 95.4 374.6 94.7 373.7 94.0 372.6 93.3 371.6 93.0 370.7 92.8 369.8 92.7 369.0 92.7 368.1 92.7 367.1 92.8 366.0 93.0 364.9 93.1 363.7 93.2 362.5 93.4 361.6 93.8 360.9 94.3 360.3 94.9 359.9 95.6 359.6 96.2 359.6 96.8 359.7 97.3 359.7 97.8 359.6 98.1 359.3 98.3 358.8 98.5 358.0 98.6 357.0 98.8 355.9 98.9 354.7 99.1 353.5 99.3 352.3 99.4 351.2 99.6 350.1 99.7 348.9 99.9 347.5 100.1 345.9 100.3 344.0 100.3 341.8 100.2 339.4 100.2 337.0 100.3 334.8 100.6 333.0 101.1 331.6 101.6 330.3 102.2 329.1 102.7 327.9 103.2 326.8 103.7 325.9 104.3 325.0 104.9 324.2 105.5 323.4 106.1 322.8 106.8 322.1 107.4 321.5 108.1 320.9 108.8 320.2 109.5 319.7 110.2 319.3 110.9 319.1Z" fill="none" stroke="#000" stroke-width="1.25" stroke-linejoin="round"/>
<path d="M120.0 324.5 120.7 324.3 121.6 324.0 122.6 323.7 123.7 323.3 124.9 322.8 126.0 322.3 127.2 321.9 128.4 321.5 129.6 321.2 130.7 320.8 131.9 320.4 133.1 319.9 134.4 319.3 135.8 318.5 137.2 317.8 138.5 317.0 139.7 316.2 141.0 315.5 142.2 314.9 143.3 314.4 144.2 314.1 145.2 313.9 146.2 313.7 147.4 313.4 148.8 313.1 150.1 312.8 151.4 312.6 152.5 312.6 153.4 312.6 154.1 312.5 154.8 312.3 155.5 312.3 156.2 312.5 156.8 313.1 157.3 313.9 157.6 314.8 157.8 315.7 157.9 316.5 158.0 317.4 158.1 318.2 158.2 319.0 158.3 319.7 158.2 320.4 158.1 321.0 158.0 321.6 157.8 322.2 157.6 323.0 157.2 324.0 156.7 325.0 156.1 325.9 155.3 326.8 154.3 327.5 153.3 328.2 152.2 328.9 151.1 329.6 149.9 330.5 148.7 331.4 147.5 332.2 146.3 333.0 145.2 333.7 144.2 334.2 143.4 334.6 142.6 335.0 141.8 335.5 141.0 336.1 140.1 336.7 139.1 337.3 138.0 337.8 136.8 338.3 135.4 339.0 134.2 339.7 133.2 340.7 132.4 341.6 131.8 342.4 131.1 342.9 130.5 343.2 129.8 343.6 128.9 344.3 128.0 345.4 127.0 346.6 126.0 347.8 125.1 348.9 124.3 349.9 123.7 350.8 123.2 351.7 122.9 352.5 122.7 353.2 122.5 353.7 122.3 354.3 122.2 354.9 122.1 355.9 121.9 356.9 121.7 358.0 121.5 358.9 121.3 359.6 121.2 360.0" fill="none" stroke="#000" stroke-width="1.25" stroke-linejoin="round"/>
<path d="M120.7 328.8 121.4 328.6 122.5 328.3 123.8 327.9 125.0 327.4 126.0 326.9 127.0 326.3 128.0 325.7 129.3 325.3 130.7 325.0 132.2 324.6 133.6 324.2 135.0 323.6 136.2 322.9 137.3 322.1 138.4 321.2 139.4 320.3 140.5 319.6 141.8 319.1 143.3 318.8 144.7 318.5 146.0 318.0 147.1 317.4 148.0 316.6 148.9 315.9 149.8 315.3 150.7 315.1 151.5 315.0 152.2 315.2 152.9 315.5 153.4 315.9 153.9 316.4 154.4 316.8 154.8 317.1 155.1 317.3 155.4 317.5 155.6 317.8 155.7 318.3 155.6 319.0 155.5 319.9 155.3 320.7 155.2 321.3 155.1 321.7 155.0 322.1 154.7 322.7 154.2 323.4 153.5 324.1 152.7 324.7 151.9 325.3 151.3 326.1 150.6 327.0 149.9 327.9 149.0 328.7 147.9 329.2 146.8 329.6 145.7 329.9 144.5 330.2 143.2 330.7 141.8 331.4 140.2 332.1 138.7 332.9 137.4 333.7 136.3 334.5 135.3 335.2 134.4 335.8 133.6 336.3 133.0 336.7 132.4 337.1 131.7 337.4 130.9 337.7 129.9 338.2 128.9 338.8 128.1 339.6 127.2 340.5 126.4 341.3 125.5 342.1 124.6 342.7 123.9 343.3 123.5 343.9 123.2 344.4 122.9 344.9 122.6 345.6 122.3 346.4 122.0 347.1 121.6 347.7" fill="none" stroke="#000" stroke-width="1.25" stroke-linejoin="round"/>
<path d="M123.0 335.9 123.7 335.5 124.5 335.0 125.3 334.3 126.2 333.5 127.0 332.8 127.7 332.2 128.5 331.8 129.4 331.5 130.4 331.3 131.4 331.0 132.4 330.7 133.2 330.3 134.0 329.9 134.9 329.4 135.8 328.8 136.7 328.1 137.5 327.3 138.3 326.7 139.1 326.1 139.9 325.6 140.7 325.1 141.3 324.7 141.9 324.2 142.4 323.6 142.9 322.9 143.4 322.1 143.8 321.4 144.2 320.7 144.7 320.0 145.4 319.4 146.1 318.7 146.9 318.2 147.6 317.7 148.4 317.5 149.3 317.3 150.2 317.3 151.0 317.4 151.6 317.6 152.0 317.9 152.4 318.3 152.9 318.7 153.3 319.1 153.6 319.5 153.8 320.0 153.7 320.5 153.5 321.2 153.3 321.9 153.1 322.7 152.9 323.4 152.6 324.0 152.1 324.6 151.4 325.1 150.6 325.7 149.7 326.4 148.8 327.1 147.9 327.7 147.0 328.2 146.2 328.6 145.3 329.0 144.5 329.5 143.5 329.8 142.4 330.1 141.2 330.3 140.0 330.6 138.9 331.1 138.1 331.7 137.3 332.4 136.7 333.2 135.9 333.8 135.1 334.3 134.1 334.6 133.3 334.8 132.4 335.1 131.6 335.5 130.6 336.0 129.5 336.5 128.3 336.7 127.2 336.9 126.2 337.2 125.5 337.6 125.0 338.0 124.5 338.3 124.1 338.4 123.7 338.2 123.5 337.7 123.1 337.1 122.8 336.6 122.6 336.2 122.6 336.0Z" fill="none" stroke="#000" stroke-width="1.25" stroke-linejoin="round"/>
<path d="M144.6 321.5 145.2 321.0 145.8 320.5 146.5 320.0 147.2 319.6 147.9 319.2 148.4 319.0 148.9 318.9 149.4 318.8 149.9 318.9 150.5 318.9 151.0 319.0 151.4 319.1 151.6 319.4 151.7 319.7 151.7 320.1 151.7 320.5 151.7 320.9 151.7 321.4 151.6 322.0 151.3 322.6 150.8 323.2 150.2 323.8 149.7 324.2 149.3 324.4 149.0 324.6 148.5 324.7 148.0 324.7 147.4 324.7 147.0 324.7 146.6 324.7 146.1 324.8 145.7 324.7 145.1 324.5 144.7 324.3 144.4 324.1 144.3 323.9 144.3 323.7 144.3 323.5 144.2 323.1 144.1 322.6 144.3 322.0Z" fill="none" stroke="#000" stroke-width="1.25" stroke-linejoin="round"/>
<path d="M101.5 368.7 101.3 367.5 101.1 365.9 101.2 364.0 101.4 362.0 101.6 359.9 101.6 357.8 101.5 355.7 101.4 353.6 101.4 351.5 101.6 349.5 101.8 347.5 102.0 345.6 102.1 343.7 102.1 341.8 102.1 339.8 102.2 337.9 102.4 336.2 102.8 334.5 103.3 333.0 103.7 331.7 103.9 330.6 103.9 329.5 104.0 328.4 104.3 327.3 105.0 326.3 105.8 325.5 106.6 324.8 107.3 324.2 108.0 323.7 108.6 323.2 109.3 322.7 110.2 322.2 111.1 321.7 111.9 321.3 112.6 320.9 113.2 320.7 113.9 320.6 114.7 320.7 115.5 320.9 116.3 321.3 117.1 321.7 117.6 322.1 118.1 322.6 118.4 323.1 118.9 323.7 119.4 324.3 119.8 324.9 120.0 325.3" fill="none" stroke="#000" stroke-width="1.15" stroke-linejoin="round"/>
<path d="M103.4 359.0 102.9 357.8 102.6 355.9 102.4 353.5 102.5 350.7 102.6 347.9 102.7 345.5 102.7 343.4 102.7 341.4 102.7 339.5 102.9 337.6 103.2 335.8 103.6 334.2 103.8 333.0 103.9 331.9 103.9 331.0 103.7 330.0 103.8 329.1 104.0 328.2 104.5 327.4 105.2 326.6 106.0 325.9 106.7 325.2 107.3 324.6 108.0 324.2 108.7 323.8 109.4 323.6 110.1 323.5 110.7 323.5 111.1 323.5 111.4 323.5 111.5 323.7 111.7 324.1 112.0 324.7 112.2 325.5 112.4 326.2 112.4 326.8 112.3 327.3 112.0 327.7 111.6 328.1 111.1 328.6 110.6 329.4 110.0 330.3 109.6 331.4 109.4 332.5 109.2 333.5 109.2 334.5 109.1 335.6 108.9 336.8 108.6 338.1 108.3 339.5 108.0 341.1 107.8 342.8 107.8 344.6 107.8 346.5 108.1 348.7 108.6 351.2 108.9 353.8 108.9 356.2 108.7 358.3 108.3 359.7 107.7 360.4 106.9 360.7 106.0 360.6 105.0 360.3 104.1 359.8Z" fill="#000" stroke="none"/>
<path d="M102.3 354.2 102.0 357.4 101.9 362.0 101.9 367.6 102.0 373.6 102.2 379.3 102.3 384.1 102.3 387.8 102.2 391.0 102.1 393.9 102.0 396.5 101.8 399.0 101.7 401.5 101.9 403.9 102.3 406.3 102.8 408.7 103.2 411.0 103.2 413.2 102.8 415.0 102.2 416.4 101.6 417.4 100.9 418.1 100.3 418.7 99.9 419.2 99.8 419.7 99.8 420.3 99.9 421.0 100.1 421.6 100.5 422.0 101.3 422.1 102.5 422.2 104.1 422.4 106.2 422.8 108.6 423.2 110.7 423.4 112.5 423.3 113.7 423.0 114.1 422.5 113.9 421.9 113.2 421.3 112.1 420.5 111.0 419.7 110.1 418.9 109.4 418.1 108.8 417.5 108.1 417.0 107.5 416.5 106.9 415.7 106.3 414.5 105.9 412.8 105.8 410.7 105.8 408.5 105.8 406.2 105.9 404.0 105.9 401.8 106.0 399.5 106.2 396.7 106.4 393.7 106.5 390.5 106.6 387.4 106.6 384.3 106.7 381.4 106.8 378.4 106.9 375.6 107.0 372.9 107.1 370.2 107.2 367.6 107.4 365.1 107.7 362.5 107.9 360.0 108.0 357.8 107.9 356.1 107.6 355.0 106.9 354.1 105.9 353.1 104.8 352.3 103.7 352.0 102.8 352.5Z" fill="#000" stroke="none"/>
<path d="M114.7 358.9 114.2 357.5 113.9 355.4 113.8 352.9 113.9 350.3 114.0 347.8 114.1 345.6 114.2 343.6 114.1 341.6 114.0 339.7 113.8 337.7 113.6 335.8 113.5 334.0 113.6 332.4 113.6 331.0 113.6 329.8 113.4 328.7 113.0 327.7 112.5 326.8 112.2 326.2 112.0 325.7 112.0 325.4 112.2 325.2 112.5 325.1 112.8 324.8 113.1 324.4 113.5 323.9 113.9 323.4 114.4 322.9 114.9 322.7 115.3 322.7 115.8 322.9 116.2 323.3 116.6 323.6 117.0 323.9 117.4 324.1 117.9 324.3 118.3 324.4 118.7 324.5 119.0 324.8 119.2 325.4 119.4 326.6 119.6 328.4 119.8 330.9 120.0 333.9 120.2 337.2 120.3 340.4 120.4 343.5 120.3 346.2 120.3 348.7 120.2 351.3 120.2 353.8 120.2 356.1 120.2 357.9 120.0 359.1 119.5 359.8 118.6 360.1 117.6 360.2 116.5 360.2 115.5 359.8Z" fill="#000" stroke="none"/>
<path d="M113.0 354.6 112.4 356.6 112.2 359.5 112.2 363.1 112.2 366.8 112.2 370.3 112.1 373.2 112.1 375.9 112.2 378.6 112.5 381.4 112.9 384.0 113.2 386.2 113.4 387.8 113.7 388.7 114.1 389.2 114.6 389.3 115.3 389.3 115.8 389.2 116.0 389.2 116.1 389.3 116.1 389.4 116.3 389.5 116.8 389.3 117.4 388.9 118.0 388.0 118.4 386.5 118.7 384.5 118.9 382.0 119.2 379.1 119.6 376.1 119.8 373.1 120.1 369.8 120.4 366.2 120.7 362.5 120.8 359.3 120.8 356.7 120.5 354.9 119.8 353.8 118.6 353.1 117.1 352.8 115.6 352.9 114.1 353.5Z" fill="#000" stroke="none"/>
<path d="M109.6 357.2 109.7 357.3 109.9 357.8 110.0 358.8 110.1 360.1 110.1 361.4 110.0 362.5 109.9 363.5 109.8 364.4 109.7 365.3 109.7 366.0 109.7 366.6 109.5 367.3 109.4 368.0 109.3 368.8 109.5 369.7 109.8 370.5 110.2 371.2 110.4 372.0 110.5 372.8 110.4 373.7 110.3 374.7 110.3 375.6 110.2 376.6 110.1 377.5 109.9 378.4 109.7 379.3 109.6 380.2 109.6 381.2 109.6 382.3 109.5 383.3 109.4 384.3 109.2 385.2 109.0 386.0 109.0 386.7 109.1 387.3 109.3 388.0 109.4 388.7 109.4 389.5 109.3 390.4 109.2 391.2 109.1 392.1 109.1 392.9 109.1 393.6 109.1 394.3 109.0 395.0 109.1 395.8 109.1 396.8 109.3 397.8 109.6 398.9 109.8 399.8 109.9 400.8 110.0 401.7 110.0 402.6 109.9 403.7 109.8 404.6 109.8 405.5 109.7 406.2 109.8 406.9 109.9 407.6 110.1 408.4 110.2 409.4 110.2 410.4 110.2 411.4 110.2 412.3 110.2 413.1 110.2 413.9 110.2 414.8 110.1 416.0 109.9 417.4 109.8 418.6 109.6 419.6 109.6 420.0" fill="none" stroke="#000" stroke-width="1.1" stroke-linejoin="round"/>
<path d="M111.7 372.9 111.9 373.6 112.0 374.3 111.9 375.0 111.9 375.8 111.9 376.8 112.0 377.9 112.1 379.0 112.1 380.1 111.9 381.1 111.7 382.1 111.4 383.0 111.4 383.9 111.4 384.7 111.6 385.4 111.8 386.0 112.1 386.5 112.5 387.1 112.7 387.9 112.6 388.9 112.2 390.0 111.9 391.2 111.8 392.1 111.9 392.9 112.2 393.7 112.3 394.5 112.3 395.4 112.2 396.3 112.1 397.2 112.0 398.1 111.8 399.0 111.5 400.1 111.4 401.2 111.4 402.2 111.4 403.1 111.5 403.8 111.5 404.4 111.5 405.0 111.5 405.7 111.4 406.3 111.4 406.9 111.4 407.6 111.4 408.5 111.3 409.5 111.2 410.7 111.1 411.8 111.1 412.8 111.2 413.7 111.4 414.3" fill="none" stroke="#000" stroke-width="1.1" stroke-linejoin="round"/>
<path d="M115.0 388.0 114.8 388.8 114.7 389.8 114.5 390.7 114.2 391.6 114.0 392.3 113.8 392.9 113.7 393.5 113.7 394.2 113.9 395.1 114.2 396.2 114.5 397.4 114.6 398.4 114.5 399.4 114.5 400.3 114.5 400.9 114.5 401.6 114.4 402.2 114.4 403.0 114.3 404.0 114.1 405.1 114.0 406.3 113.8 407.4 113.7 408.4 113.6 409.3 113.7 410.2 114.0 411.0 114.1 411.9 114.1 412.7 114.0 413.6 114.0 414.4 114.1 415.3 114.3 416.1 114.7 416.9 114.9 417.6 115.1 418.3 115.1 419.0" fill="none" stroke="#000" stroke-width="1.1" stroke-linejoin="round"/>
<path d="M115.4 388.7 115.6 389.2 115.6 389.9 115.6 390.9 115.7 391.9 115.9 393.0 116.1 393.9 116.3 394.6 116.5 395.3 116.6 396.2 116.7 397.2 116.8 398.5 116.8 399.8 116.7 400.9 116.6 401.7 116.5 402.5 116.4 403.1 116.4 403.8 116.5 404.6 116.4 405.3 116.3 405.9 116.1 406.6 116.1 407.3 116.2 408.1 116.2 408.9 116.1 409.8 116.0 410.7 116.0 411.6 116.2 412.5 116.4 413.4 116.6 414.2 116.7 415.2 116.7 416.3 116.4 417.4 115.9 418.5 115.5 419.3 115.4 419.9" fill="none" stroke="#000" stroke-width="1.1" stroke-linejoin="round"/>
<path d="M101.2 356.6 101.4 357.1 101.4 357.9 101.4 358.7 101.5 359.7 101.7 360.6 101.8 361.7 101.7 362.7 101.5 363.8 101.3 364.7 101.1 365.6 100.9 366.5 100.7 367.3 100.6 368.3 100.5 369.2 100.6 370.1 100.9 370.9 101.1 371.8 101.3 372.8 101.3 373.9 101.1 375.0 100.9 376.0 100.8 377.0 100.9 377.8 101.2 378.7 101.4 379.5 101.4 380.4 101.2 381.2 100.9 382.0 100.8 382.7 100.9 383.4 101.1 384.0 101.3 384.8 101.4 385.6 101.5 386.5 101.4 387.4 101.3 388.1 101.2 388.9 101.0 389.6 100.9 390.4 100.9 391.3 101.1 392.3 101.5 393.4 101.8 394.3 102.1 395.2 102.1 396.0 101.9 396.9 101.6 397.8 101.2 398.7 100.9 399.6 100.7 400.4 100.5 401.1 100.4 401.9 100.4 402.8 100.4 403.7 100.5 404.5 100.7 405.4 100.9 406.2 100.9 407.2 100.9 408.3 100.8 409.4 100.8 410.4 100.9 411.2 100.9 411.8 100.8 412.4 100.7 413.1 100.7 413.9 100.7 414.7 100.6 415.7 100.6 416.7 100.6 417.6 100.7 418.4 101.0 418.9" fill="none" stroke="#000" stroke-width="1.1" stroke-linejoin="round"/>
<path d="M111.6 332.4 111.4 333.2 111.1 334.2 110.9 335.4 110.6 336.6 110.5 337.7 110.6 338.7 110.8 339.5 111.0 340.1 111.1 340.7 111.0 341.4 110.9 342.1 110.7 343.0 110.5 343.9 110.4 344.9 110.4 345.8 110.4 346.6 110.4 347.3 110.5 348.0 110.7 348.7 111.0 349.6 111.2 350.5 111.3 351.5 111.4 352.5 111.2 353.4 111.0 354.2 110.8 355.0 110.6 355.9 110.5 356.8 110.4 357.8 110.5 358.6 110.5 359.3 110.5 360.0 110.5 360.7 110.5 361.4 110.3 362.2 110.2 363.0 110.3 364.1 110.5 365.2 110.9 366.3 111.4 367.3 111.7 368.0 111.7 368.6" fill="none" stroke="#000" stroke-width="1.1" stroke-linejoin="round"/>
<path d="M109.1 335.1 108.9 335.8 108.8 336.8 108.8 338.0 109.0 339.2 109.1 340.5 109.1 341.6 109.1 342.6 109.0 343.5 108.9 344.1 109.0 344.7 109.2 345.3 109.6 346.1 109.8 347.0 109.9 348.0 109.9 349.0 109.8 350.0 109.7 350.8 109.5 351.7 109.1 352.6 108.7 353.5 108.6 354.4 108.8 355.4 109.2 356.3 109.6 357.2 109.8 358.0 109.8 358.9 109.8 359.6 109.7 360.2 109.5 360.7 109.3 361.1" fill="none" stroke="#000" stroke-width="1.1" stroke-linejoin="round"/>
<path d="M110.4 327.7V358.5" stroke="#fff" stroke-width="0.8" stroke-dasharray="2.5 3 1.5 4 3 2" fill="none"/>
<path d="M105.5 330.8V358.5" stroke="#fff" stroke-width="0.7" stroke-dasharray="1.5 4 2.5 3" fill="none"/>
<path d="M362.8 315.3 363.2 314.9 363.8 314.4 364.7 314.1 365.9 313.8 367.2 313.8 368.4 313.9 369.5 314.3 370.4 314.9 371.2 315.5 371.8 316.1 372.4 316.7 372.9 317.1 373.2 317.5 373.3 317.8 373.3 318.2 373.2 318.6 373.4 319.1 374.0 319.5 375.1 319.7 376.3 319.7 377.4 319.4 378.3 319.0 379.1 318.6 380.1 318.3 381.4 317.8 382.8 317.3 384.1 316.6 385.3 316.0 386.2 315.3 387.0 314.4 387.9 313.4 389.0 312.3 390.3 311.2 391.6 310.1 393.0 309.1 394.3 308.2 395.5 307.3 396.6 306.5 397.6 305.8 398.6 305.2 399.4 304.5 400.3 303.9 401.2 303.4 402.2 303.0 403.3 302.6 404.4 302.3 405.5 302.0 406.5 301.7 407.5 301.3 408.7 301.0 410.0 300.8 411.2 300.8 412.3 300.9 413.3 301.2 414.1 301.6 414.9 302.0 415.7 302.6 416.6 303.4 417.5 304.3 418.3 305.3 419.1 306.2 419.7 307.1 420.2 308.0 420.7 308.8 421.1 309.7 421.3 310.6 421.5 311.7 421.5 312.9 421.5 314.2 421.4 315.5 421.3 316.8 421.1 317.9 420.8 318.9 420.3 320.0 419.7 321.0 418.9 322.0 418.1 322.9 417.3 323.8 416.5 324.6 415.8 325.5 415.1 326.5 414.5 327.6 413.8 328.7 413.1 329.7 412.4 330.6 411.5 331.4 410.4 332.2 409.1 332.9 407.8 333.8 406.4 334.8 405.1 335.9 404.0 337.3 403.0 338.7 402.1 339.9 401.3 340.9 400.5 341.5 399.5 341.9 398.4 342.1 397.2 342.1 395.8 342.2 394.5 342.4 393.2 342.8 392.0 343.3 391.0 343.8 390.2 344.2 389.4 344.5 388.7 344.9 388.0 345.3 387.2 346.1 386.4 347.0 385.5 348.1 384.7 349.2 384.0 350.2 383.3 351.3 382.7 352.3 382.2 353.5 381.7 354.6 381.1 355.7 380.6 356.8 380.1 357.6 379.8 358.1 379.7 358.4 379.9 358.5 380.1 358.6 380.1 358.9 379.8 359.4 379.1 360.2 378.3 361.0 377.5 361.8 376.8 362.6 376.1 363.5 375.4 364.5 374.7 365.6 374.2 367.0 373.8 368.5 373.5 370.3 373.1 372.1 372.7 373.7 372.3 375.1 372.0 376.4 371.8 377.6 371.7 378.9 371.5 380.1 371.2 381.2 371.1 381.9 370.9 382.1 370.8 382.2 370.8 382.4 370.7 383.0 370.5 384.3 370.2 386.3 369.9 388.8 369.7 391.6 369.6 394.8 369.7 398.1 369.8 401.4 370.1 405.1 370.5 409.4 370.9 413.7 371.4 417.8 371.6 421.3 371.5 423.8 370.7 425.1 369.5 425.4 367.9 425.2 366.2 424.7 364.4 424.1 362.8 423.9 361.3 424.3 359.9 424.9 358.5 425.6 357.1 425.9 355.7 425.6 354.4 424.4 353.6 422.2 353.3 419.0 353.4 415.2 353.5 411.0 353.6 406.6 353.5 402.1 353.4 397.2 353.4 391.5 353.7 385.6 354.0 380.1 354.4 375.4 354.6 372.0 354.7 370.2 354.7 369.6 354.7 369.7 354.9 370.0 355.1 370.1 355.2 369.5 355.2 368.1 355.2 366.4 355.3 364.3 355.5 361.9 355.6 359.4 355.5 356.9 355.5 354.3 355.5 351.6 355.5 348.8 355.6 346.0 355.6 343.4 355.4 341.1 355.2 338.9 354.9 336.7 354.7 334.6 354.7 332.7 355.0 330.9 355.6 329.2 356.1 327.6 356.6 326.1 357.0 324.6 357.3 323.2 357.8 321.7 358.5 320.3 359.3 318.9 360.2 317.7 361.1 316.9 361.9 316.3 362.4 315.8Z" fill="none" stroke="#000" stroke-width="1.25" stroke-linejoin="round"/>
<path d="M356.0 365.4 356.4 362.5 356.6 358.5 356.6 353.8 356.6 349.2 356.5 345.0 356.6 341.6 356.7 339.2 356.8 337.1 357.0 335.2 357.2 333.4 357.5 331.6 357.8 329.8 358.2 328.1 358.6 326.7 358.9 325.4 359.1 324.3 359.4 323.2 359.8 322.1 360.2 321.1 360.7 320.0 361.3 319.0 362.0 318.0 362.9 317.2 363.9 316.8 364.9 316.6 365.7 316.5 366.4 316.4 366.9 316.3 367.4 316.2 368.1 316.2 368.9 316.5 369.6 316.9 370.3 317.4 370.8 317.8 371.3 318.1 371.7 318.3 372.2 318.6 372.7 319.0 373.2 319.6 373.8 320.4 374.3 321.2 374.8 322.0 375.0 322.6 375.3 323.1 375.7 323.3 376.4 323.3 377.3 323.2 378.1 323.0 378.9 322.6 379.8 322.0 380.9 321.3 382.0 320.4 383.3 319.5 384.6 318.8 385.9 318.1 387.3 317.3 388.7 316.4 390.1 315.3 391.4 314.3 392.6 313.5 393.7 312.6 394.7 311.7 395.6 310.7 396.6 309.7 397.6 308.8 398.9 307.9 400.3 307.1 401.7 306.4 402.9 305.7 404.0 305.2 405.0 304.7 405.7 304.3 406.4 303.8 407.2 303.4 408.3 303.2 409.6 303.2 410.9 303.2 412.0 303.3 412.7 303.5 413.2 303.8 413.8 304.1 414.5 304.5 415.4 305.1 416.1 306.0 416.6 307.0 416.9 308.2 417.0 309.4 417.2 310.4 417.4 311.2 417.4 312.0 417.2 312.8 416.8 313.8 416.4 314.8 416.1 315.9 416.0 316.9 415.9 317.9 415.8 318.8 415.4 319.8 414.8 320.9 414.0 322.0 413.2 323.0 412.4 323.9 411.8 324.6 411.2 325.2 410.6 325.7 409.8 326.3 408.7 326.9 407.4 327.5 406.2 328.0 405.1 328.6 404.1 329.3 403.2 330.2 402.1 331.4 401.0 332.6 399.8 333.7 398.6 334.5 397.5 335.2 396.3 335.8 395.1 336.3 393.8 336.7 392.6 337.2 391.4 337.6 390.4 338.1 389.4 338.6 388.4 339.3 387.5 340.1 386.6 340.9 385.7 341.8 384.6 342.5 383.5 343.1 382.4 343.8 381.4 344.6 380.6 345.6 380.0 346.6 379.6 347.7 379.2 348.7 378.9 349.7 378.5 350.7 378.1 351.7 377.5 352.8 376.7 353.9 375.8 355.1 375.0 356.5 374.3 357.9 373.9 359.4 373.5 361.0 373.3 362.4 373.1 363.7 373.1 364.7 373.2 365.5" fill="none" stroke="#000" stroke-width="1.25" stroke-linejoin="round"/>
<path d="M374.4 328.9 375.0 328.8 375.5 328.5 375.9 328.1 376.3 327.6 376.9 327.0 377.6 326.3 378.6 325.6 379.8 324.9 381.1 324.2 382.4 323.6 383.7 323.0 385.0 322.3 386.1 321.6 387.2 320.8 388.1 319.9 389.0 319.0 389.8 318.2 390.7 317.5 391.7 316.6 392.9 315.6 394.2 314.5 395.6 313.4 397.0 312.3 398.4 311.4 399.8 310.4 401.2 309.5 402.4 308.7 403.6 308.1 404.8 307.7 405.8 307.3 406.7 307.1 407.6 306.8 408.5 306.5 409.4 306.4 410.4 306.4 411.3 306.5 412.3 306.8 413.2 307.1 414.0 307.5 414.6 308.0 414.9 308.4 414.9 308.9 414.8 309.5 414.8 310.1 414.9 310.9 415.1 311.8 415.3 312.7 415.4 313.6 415.5 314.3 415.5 315.1 415.2 315.8 414.7 316.7 414.1 317.5 413.6 318.3 413.0 319.0 412.4 319.6 411.5 320.3 410.4 321.0 409.3 321.8 408.3 322.5 407.4 323.2 406.7 324.0 406.0 324.8 405.3 325.8 404.2 326.8 403.0 327.6 401.6 328.1 400.2 328.5 399.0 328.7 397.9 329.1 396.8 329.6 395.8 330.1 394.6 330.7 393.4 331.4 392.0 332.2 390.8 333.1 389.6 334.0 388.6 334.8 387.6 335.4 386.7 335.9 385.8 336.2 385.0 336.5 384.1 337.0 383.2 337.6 382.1 338.4 381.0 339.0 379.9 339.6 379.0 340.0 378.2 340.4 377.4 340.9 376.6 341.6 376.0 342.4 375.4 343.2 374.8 343.9 374.3 344.5 373.8 345.2 373.3 346.2 373.0 347.4 372.9 348.8 372.9 350.2 373.0 351.5 373.3 352.6" fill="none" stroke="#000" stroke-width="1.25" stroke-linejoin="round"/>
<path d="M381.2 328.9 381.6 328.3 382.4 327.6 383.6 326.8 384.9 325.8 386.1 324.8 387.1 323.9 387.7 323.0 388.4 322.0 389.2 321.1 390.2 320.3 391.3 319.4 392.6 318.5 393.8 317.5 394.9 316.6 395.9 315.7 396.8 314.9 397.7 314.2 398.5 313.5 399.5 312.7 400.6 311.7 401.7 310.8 402.9 309.8 404.0 309.1 405.0 308.7 406.0 308.4 407.0 308.3 408.0 308.2 409.0 308.2 409.8 308.2 410.3 308.3 410.7 308.4 411.0 308.7 411.3 309.1 411.7 309.6 412.1 310.3 412.6 311.2 413.0 312.2 413.3 313.2 413.3 314.0 413.3 314.7 413.1 315.3 412.8 315.9 412.5 316.5 411.9 317.3 411.1 318.1 410.2 319.1 409.2 320.1 408.4 321.0 407.8 321.9 407.2 322.6 406.5 323.2 405.6 323.7 404.4 324.2 403.2 324.8 402.1 325.4 400.9 326.2 399.8 327.0 398.7 327.6 397.6 328.2 396.7 328.7 395.7 329.1 394.7 329.6 393.5 330.2 392.4 330.9 391.3 331.4 390.3 331.7 389.4 331.9 388.5 332.0 387.5 332.1 386.6 332.2 385.8 332.2 385.2 332.1 384.5 331.8 383.6 331.3 382.7 330.7 381.9 330.1 381.3 329.4Z" fill="none" stroke="#000" stroke-width="1.25" stroke-linejoin="round"/>
<path d="M395.6 318.4 395.6 317.3 396.0 316.2 396.8 315.2 397.8 314.3 399.0 313.5 400.0 312.7 401.1 311.9 402.1 311.2 403.2 310.7 404.2 310.4 405.1 310.3 406.1 310.1 407.1 309.9 408.1 309.5 408.9 309.3 409.5 309.2 409.9 309.4 410.2 309.8 410.5 310.4 410.8 311.1 411.0 311.9 411.1 312.7 411.2 313.4 411.1 314.1 410.9 314.8 410.5 315.5 409.9 316.2 409.2 316.9 408.6 317.7 408.0 318.4 407.3 319.1 406.5 319.8 405.7 320.2 404.9 320.5 404.3 320.7 403.7 321.0 403.0 321.6 402.1 322.2 401.1 322.7 400.0 322.8 399.1 322.6 398.4 322.2 397.9 321.8 397.4 321.5 396.9 321.1 396.4 320.4 395.9 319.5Z" fill="none" stroke="#000" stroke-width="1.25" stroke-linejoin="round"/>
<path d="M398.9 318.3 399.2 317.6 399.8 316.8 400.4 316.0 400.9 315.1 401.5 314.4 402.3 313.8 403.3 313.5 404.4 313.2 405.4 313.1 406.2 313.0 406.8 313.0 407.4 313.0 407.9 313.1 408.5 313.4 409.0 313.6 409.2 314.0 409.2 314.4 409.0 314.9 408.7 315.5 408.6 316.0 408.5 316.6 408.4 317.0 408.1 317.4 407.4 317.6 406.5 317.7 405.5 318.0 404.7 318.4 404.1 319.0 403.5 319.6 402.9 319.9 402.3 320.1 401.5 320.0 400.5 319.7 399.6 319.4 399.0 318.9Z" fill="none" stroke="#000" stroke-width="1.25" stroke-linejoin="round"/>
<path d="M360.7 372.0 360.0 372.0 359.6 371.8 359.2 371.3 358.8 370.4 358.4 369.0 358.1 367.1 357.9 364.1 357.9 360.0 358.0 355.1 358.2 349.9 358.3 345.0 358.4 341.0 358.3 337.9 358.3 335.3 358.2 333.2 358.3 331.5 358.4 330.0 358.8 328.5 359.2 327.2 359.7 325.9 360.1 324.7 360.6 323.6 361.1 322.5 361.6 321.4 362.2 320.4 362.6 319.4 363.1 318.4 363.6 317.5 364.2 316.5 364.8 315.8 365.5 315.5 366.1 315.6 366.8 316.0 367.4 316.4 367.8 316.8 368.2 317.1 368.4 317.2 368.8 317.4 369.2 317.6 369.8 317.8 370.4 318.2 370.9 318.7 371.5 319.5 371.9 320.4 372.2 321.5 372.4 322.7 372.4 324.0 372.3 325.6 372.2 327.5 372.0 330.0 371.9 332.7 371.8 335.6 371.8 338.4 371.9 341.0 372.0 343.6 372.1 346.3 372.2 349.0 372.1 351.7 371.9 354.2 371.6 356.5 371.4 358.5 371.3 360.3 371.4 362.0 371.5 363.6 371.5 365.2 371.4 366.8 371.2 368.4 371.1 369.7 371.0 370.6 370.7 371.1 370.4 371.5 369.7 371.8 368.5 371.9 366.9 371.9 365.1 371.8 363.3 371.9 361.7 372.0Z" fill="#000" stroke="none"/>
<path d="M364.1 375.6 364.0 374.9 363.9 374.1 363.7 373.1 363.5 371.8 363.3 369.9 363.0 367.5 362.8 364.0 362.5 359.5 362.4 354.4 362.3 349.3 362.2 344.7 362.0 340.9 361.8 338.1 361.8 335.9 362.0 334.2 362.3 332.8 362.6 331.5 363.0 330.2 363.3 329.0 363.7 327.8 363.9 326.7 364.2 325.9 364.6 325.1 365.0 324.5 365.4 324.1 365.7 323.8 365.9 323.7 366.1 323.8 366.3 324.1 366.6 324.4 366.9 324.6 367.2 324.8 367.3 324.9 367.4 325.0 367.5 325.5 367.6 326.4 367.9 328.1 368.1 330.4 368.1 333.0 367.9 335.7 367.6 338.2 367.4 340.5 367.4 343.0 367.5 345.8 367.6 348.7 367.7 351.5 367.8 354.1 367.6 356.3 367.4 358.3 367.1 360.3 366.9 362.2 366.9 364.1 366.9 366.0 366.8 367.7 366.6 369.4 366.2 371.0 366.0 372.4 365.9 373.7 365.9 374.8 365.8 375.6 365.5 376.2 365.2 376.6 364.8 376.7 364.4 376.6 364.2 376.2Z" fill="#fff" stroke="none"/>
<path d="M364.6 328.0 364.5 329.2 364.6 330.8 364.6 332.9 364.6 335.4 364.5 338.1 364.5 340.8 364.6 343.6 364.9 346.2 365.3 348.7 365.6 351.1 365.7 353.7 365.6 356.5 365.4 359.4 365.3 362.4 365.1 365.4 365.0 368.1 364.8 370.3 364.6 372.0" fill="none" stroke="#000" stroke-width="1.2" stroke-linejoin="round"/>
<path d="M359.0 357.3 358.7 358.6 358.5 360.3 358.2 362.3 357.9 364.3 357.7 366.0 357.6 367.2 357.6 368.2 357.8 369.2 358.0 370.3 358.3 371.5 358.5 372.7 358.7 373.8 358.9 374.7 359.1 375.4 359.2 375.8 359.4 376.1 359.6 376.3 359.9 376.4 360.4 376.3 360.9 376.0 361.3 375.5 361.7 374.9 362.0 374.1 362.2 373.3 362.5 372.7 362.7 372.0 362.9 371.1 363.0 370.1 363.0 368.8 363.0 367.2 363.1 365.4 363.2 363.4 363.3 361.4 363.2 359.6 362.9 358.0 362.5 356.9 361.9 356.2 361.1 355.8 360.5 355.7 359.8 355.9 359.3 356.5Z" fill="#000" stroke="none"/>
<path d="M365.6 356.6 365.3 357.2 365.3 357.9 365.4 358.9 365.6 359.9 365.8 360.9 366.1 361.8 366.3 362.6 366.7 363.3 367.1 364.0 367.5 364.5 367.9 364.9 368.2 365.0 368.4 365.1 368.5 365.0 368.7 364.9 369.0 364.7 369.3 364.3 369.5 363.8 369.6 363.2 369.6 362.5 369.6 361.7 369.7 361.0 369.8 360.5 369.9 360.0 370.1 359.6 370.3 359.1 370.3 358.7 370.3 358.2 370.1 357.6 369.8 357.1 369.3 356.7 368.6 356.3 367.7 356.2 366.8 356.2 366.0 356.3Z" fill="#000" stroke="none"/>
<path d="M357.4 364.1 357.4 366.4 357.3 369.6 357.3 373.3 357.1 377.3 357.0 381.1 356.9 384.3 356.8 387.2 356.8 390.0 356.9 393.0 357.0 396.0 357.0 399.1 357.0 402.1 357.0 405.1 357.1 408.1 357.2 411.0 357.3 413.9 357.5 416.5 357.6 418.7 357.6 420.5 357.4 421.8 357.0 422.7 356.6 423.3 356.1 423.7 355.7 424.0" fill="none" stroke="#000" stroke-width="1.2" stroke-linejoin="round"/>
<path d="M359.2 376.6 359.0 377.8 358.9 379.5 358.8 381.5 358.9 383.8 359.0 386.0 359.2 388.1 359.3 390.0 359.2 391.8 359.1 393.6 359.1 395.2 359.1 396.9 359.1 398.5 359.2 400.0 359.3 401.5 359.5 402.9 359.7 404.3 360.0 405.8 360.4 407.2 360.8 408.9 361.4 410.7 361.8 412.7 362.1 414.9 362.2 416.9 362.2 418.6 362.1 419.8 361.8 420.5 361.5 420.9 361.1 421.1 360.8 421.5 360.4 422.0 360.1 422.7 359.8 423.2 359.6 423.7 359.4 423.9 359.2 424.0 358.9 424.0" fill="none" stroke="#000" stroke-width="1.2" stroke-linejoin="round"/>
<path d="M367.8 364.7 367.8 366.3 367.7 368.5 367.8 371.0 367.8 373.7 367.8 376.2 367.8 378.6 367.9 380.7 367.9 382.8 368.0 384.7 368.1 386.6 368.3 388.4 368.4 390.2 368.5 392.0 368.5 394.0 368.4 396.0 368.1 398.1 367.8 400.2 367.5 402.1 367.1 404.1 366.6 406.0 366.1 408.0 365.6 409.8 365.1 411.6 364.6 413.0 364.1 414.2 363.6 415.1 363.3 415.8 363.0 416.5 362.9 417.1 363.0 417.8 363.1 418.6 363.4 419.4 363.7 420.2 364.1 421.0 364.5 421.7 364.9 422.3 365.5 422.7 366.1 423.0 366.7 423.2 367.2 423.4 367.6 423.5 367.9 423.6" fill="none" stroke="#000" stroke-width="1.2" stroke-linejoin="round"/>
<path d="M368.9 363.6 368.9 366.1 368.9 369.5 368.9 373.4 368.8 377.5 368.8 381.4 368.8 384.9 368.8 387.9 368.9 390.8 369.0 393.6 369.2 396.4 369.3 399.2 369.3 402.1 369.3 405.1 369.2 408.4 369.0 411.7 368.7 414.6 368.5 417.1 368.3 419.1 368.3 420.4 368.5 421.4 368.7 422.1 369.0 422.5 369.2 422.9 369.4 423.4" fill="none" stroke="#000" stroke-width="1.2" stroke-linejoin="round"/>
<path d="M362.3 379.1 362.4 379.8 362.7 380.8 363.1 382.0 363.4 383.2 363.8 384.3 364.0 385.3 364.1 386.1 363.9 387.0 363.6 388.0 363.2 389.1 362.9 390.1 362.5 391.1 362.2 392.0 361.9 392.8 361.7 393.6 361.4 394.3 361.2 395.2 361.0 396.2 361.1 397.4 361.5 398.6 361.8 399.9 362.1 401.0 362.3 401.8 362.6 402.2 363.1 402.1 363.7 401.6 364.5 400.9 365.0 400.1 365.4 399.4 365.5 398.5 365.4 397.3 365.3 395.6 365.3 393.6 365.4 391.5 365.5 389.5 365.6 387.9 365.6 386.4 365.6 385.0 365.5 383.6 365.3 382.3 365.2 381.2 365.2 380.3" fill="none" stroke="#000" stroke-width="1.2" stroke-linejoin="round"/>
<path d="M355.8 423.9 355.4 423.5 355.7 423.0 356.4 422.5 357.3 422.1 358.2 421.6 358.9 421.2 359.6 420.7 360.2 420.1 360.9 419.5 361.5 419.1 362.1 418.8 362.5 418.8 363.0 418.9 363.5 419.3 364.2 419.9 364.9 420.5 365.5 421.2 366.2 421.6 367.0 422.0 368.0 422.4 368.9 422.7 369.6 423.0 369.9 423.4 369.4 423.7 367.8 424.0 365.4 424.2 362.5 424.3 359.6 424.3 357.2 424.2Z" fill="#000" stroke="none"/>
<path d="M360.2 424.0 360.1 423.5 360.4 422.9 360.9 422.1 361.5 421.5 362.1 421.0 362.6 420.8 363.0 421.0 363.6 421.5 364.1 422.2 364.6 422.8 365.0 423.4 365.0 423.8 364.6 424.0 363.8 424.1 362.7 424.2 361.6 424.3 360.7 424.2Z" fill="#fff" stroke="none"/>
<path d="M115.7 564.3 116.1 563.5 116.5 562.9 117.0 562.5 117.5 562.3 118.0 562.4 118.5 562.6 119.1 562.9 119.6 563.3 120.2 563.6 120.7 563.8 121.1 564.0 121.3 564.2 121.5 564.5 121.7 564.8 121.9 565.2 122.1 565.9 122.4 566.9 122.8 568.2 123.0 570.0 123.0 572.3 122.7 574.8 122.4 577.4 122.0 579.8 121.8 581.9 121.7 583.8 121.7 585.6 121.7 587.4 121.5 589.0 121.3 590.5 120.9 591.8 120.5 592.8 120.2 593.7 119.8 594.3 119.5 594.8 119.2 595.2 118.8 595.7 118.3 596.0 117.8 596.1 117.3 595.9 116.8 595.6 116.3 595.2 115.9 594.8 115.5 594.3 115.2 593.8 114.9 593.3 114.8 592.6 114.7 591.6 114.7 590.3 114.6 588.6 114.4 586.5 114.2 584.3 113.9 582.1 113.7 580.0 113.7 578.3 113.6 576.7 113.6 575.0 113.7 573.4 113.7 571.9 113.9 570.5 114.2 569.3 114.4 568.2 114.5 567.3 114.7 566.5 114.9 565.8 115.3 565.0Z" fill="#000" stroke="none"/>
<path d="M116.1 568.6 116.5 567.5 116.9 566.9 117.3 566.5 117.6 566.6 117.9 566.8 118.2 567.0 118.6 567.4 119.0 567.9 119.3 568.6 119.6 569.4 119.9 570.2 120.1 571.1 120.1 572.4 120.0 574.0 119.8 575.8 119.5 577.6 119.3 579.4 119.2 581.1 119.1 582.6 119.0 584.1 118.9 585.5 118.8 586.6 118.7 587.4 118.6 588.1 118.3 588.5 117.9 588.6 117.4 588.4 116.9 588.0 116.6 587.3 116.4 586.6 116.3 585.9 116.2 584.9 116.1 583.6 116.0 582.2 115.9 580.6 115.6 579.0 115.4 577.3 115.2 575.5 115.2 573.6 115.4 571.7 115.7 570.0Z" fill="#fff" stroke="none"/>
<path d="M128.4 565.3 129.0 564.5 129.9 563.6 131.0 562.8 132.2 562.0 133.5 561.4 134.9 560.9 136.2 560.4 137.5 559.8 138.6 559.2 139.6 558.5 140.6 557.6 141.6 556.6 142.7 555.5 144.0 554.6 145.4 553.8 146.7 553.3 148.1 553.0 149.5 552.7 150.7 552.2 151.8 551.5 152.8 550.8 153.7 550.3 154.6 550.0 155.6 549.9 156.5 549.9 157.4 549.8 158.3 549.6 159.0 549.5 159.6 549.6 159.9 549.9 160.1 550.2 160.2 550.6 160.3 551.1 160.4 551.6 160.4 552.3 160.3 552.9 160.2 553.7 160.0 554.5 159.6 555.4 159.2 556.2 158.7 557.1 158.2 558.1 157.5 559.2 156.7 560.4 155.8 561.4 154.8 562.2 153.8 562.7 152.9 563.0 152.0 563.3 151.1 563.6 149.9 563.9 148.7 564.5 147.3 565.1 146.1 565.9 144.8 566.8 143.7 567.5 142.6 568.1 141.6 568.8 140.5 569.4 139.6 570.0 138.6 570.6 137.8 571.0 137.0 571.4 136.3 571.8 135.7 572.2 134.9 572.6 134.0 573.0 132.9 573.5 131.8 574.2 130.8 574.9 129.9 575.6 129.1 576.0 128.3 576.1 127.6 575.8 127.2 575.3 127.0 574.6 127.0 573.7 127.0 572.7 127.1 571.5 127.2 570.1 127.3 568.8 127.6 567.5 127.9 566.3Z" fill="#000" stroke="none"/>
<path d="M131.0 570.0L158.4 553.6" stroke="#fff" stroke-width="1.3" stroke-dasharray="3.5 1.6 2.2 2 4 1.8 1.5 2.4" fill="none"/>
<path d="M133.2 565.4L156.3 551.3M133.9 572.3L157.7 557.5" stroke="#fff" stroke-width="0.7" stroke-dasharray="1.5 3 2.5 2.2 1 3.5" fill="none"/>
<path d="M110.7 557.4 111.1 557.1 111.7 556.8 112.5 556.6 113.5 556.3 114.5 556.1 115.4 555.9 116.5 555.7 117.6 555.7 118.6 555.9 119.5 556.3 120.2 556.8 120.8 557.2 121.3 557.5 121.8 557.6 122.4 557.7 123.2 557.7 124.1 557.9 125.1 558.0 126.1 558.0 127.0 557.7 127.8 557.2 128.5 556.6 129.3 556.0 130.1 555.4 131.0 554.7 132.2 554.0 133.5 553.4 135.0 552.8 136.5 552.3 137.8 552.0 138.9 551.7 140.0 551.2 141.0 550.6 142.2 549.9 143.5 549.2 144.7 548.6 145.9 548.0 147.1 547.5 148.2 546.9 149.4 546.4 150.5 545.8 151.5 545.1 152.5 544.3 153.6 543.5 154.7 542.9 155.9 542.5 157.1 542.3 158.4 542.3 159.6 542.6 160.8 543.0 161.8 543.5 162.6 544.1 163.2 544.7 163.9 545.2 164.6 545.7 165.2 546.4 165.8 547.2 166.3 548.0 166.9 549.0 167.3 550.0 167.6 551.1 167.5 552.3 167.4 553.6 167.2 554.9 167.1 556.1 166.9 557.3 166.6 558.4 166.2 559.6 165.6 560.6 165.0 561.5 164.3 562.2 163.6 562.8 162.8 563.3 162.2 563.8 161.5 564.6 160.9 565.5 160.1 566.5 159.3 567.5 158.4 568.4 157.5 569.2 156.5 570.0 155.5 570.7 154.5 571.4 153.4 572.0 152.2 572.5 150.8 573.0 149.4 573.5 148.0 574.1 146.8 574.8 145.7 575.5 144.7 576.3 143.7 577.0 142.6 577.7 141.7 578.5 140.8 579.5 139.9 580.4 139.0 581.4 138.0 582.1 137.0 582.7 136.0 583.3 135.0 583.9 134.1 584.7 133.3 585.7 132.5 586.6 131.9 587.5 131.3 588.3 130.8 589.2 130.4 590.1 129.9 591.0 129.4 591.9 128.9 592.8 128.2 593.8 127.5 594.9 126.8 595.8 126.2 596.6 125.7 597.1 125.2 597.6 124.9 598.2 124.7 599.0 124.4 600.0 124.1 601.0 123.6 602.1 122.9 603.0 122.2 604.0 121.6 604.9 121.1 605.9 120.8 606.9 120.7 607.9 120.5 608.9 120.0 609.7 119.4 610.4 118.7 611.1 117.9 611.9 117.3 612.9 116.7 613.9 116.3 615.0 115.9 615.9 115.4 616.5 114.7 616.8 113.8 616.9 112.8 616.7 111.9 616.4 111.3 616.2 110.9 616.1 110.7 616.1 110.5 616.0 110.3 615.7 110.0 615.2 109.7 614.3 109.3 613.2 109.0 611.8 108.9 610.1 108.9 608.2 108.8 606.3 108.6 604.4 108.3 602.5 108.0 600.6 107.8 598.5 107.8 596.2 107.9 593.6 108.1 591.0 108.4 588.4 108.6 585.9 108.6 583.4 108.5 580.8 108.3 578.3 108.3 575.9 108.5 573.7 108.7 571.6 108.9 569.7 109.0 568.1 108.8 566.8 108.5 565.7 108.2 564.8 108.2 564.0 108.4 563.3 108.7 562.8 109.1 562.3 109.4 561.8 109.6 561.2 109.8 560.5 110.1 559.8 110.4 559.0 110.6 558.4 110.6 557.9Z" fill="none" stroke="#000" stroke-width="1.25" stroke-linejoin="round"/>
<path d="M112.6 559.8 113.0 559.4 113.6 559.0 114.2 558.7 114.9 558.5 115.7 558.4 116.4 558.3 117.1 558.4 117.8 558.5 118.4 558.6 119.1 558.7 119.8 558.8 120.6 558.9 121.4 559.2 122.1 559.5 122.8 559.9 123.4 560.3 124.0 560.7 124.7 561.0 125.5 561.1 126.3 561.0 126.9 560.6 127.6 560.2 128.3 559.6 129.2 559.1 130.4 558.7 131.7 558.3 133.2 557.8 134.6 557.2 135.9 556.4 137.0 555.5 138.2 554.6 139.3 553.7 140.5 552.7 141.7 551.6 142.8 550.6 144.0 549.6 145.2 548.8 146.5 548.2 147.8 547.7 149.1 547.4 150.4 547.1 151.6 546.8 152.8 546.5 154.1 546.2 155.3 545.9 156.3 545.8 157.2 545.7 157.9 545.8 158.7 545.9 159.5 546.1 160.3 546.2 161.1 546.5 161.9 546.7 162.7 547.0 163.4 547.4 164.0 547.8 164.5 548.4 164.9 549.2 165.1 550.2 165.2 551.1 165.4 552.0 165.5 552.9 165.7 553.8 165.7 554.9 165.7 555.9 165.4 557.0 165.0 558.0 164.5 559.0 163.9 559.9 163.2 560.8 162.3 561.7 161.4 562.3 160.5 562.9 159.6 563.5 158.8 564.1 158.1 564.7 157.2 565.3 156.4 565.9 155.6 566.6 154.7 567.3 153.8 568.0 152.9 568.7 151.9 569.4 151.0 569.9 150.1 570.2 149.1 570.6 148.1 571.0 147.0 571.6 145.9 572.3 144.7 573.1 143.6 574.0 142.4 574.8 141.4 575.5 140.5 576.2 139.6 576.9 138.8 577.7 137.8 578.5 136.9 579.4 136.0 580.1 135.1 580.8 134.3 581.5 133.5 582.4 132.7 583.3 131.9 584.2 131.1 585.0 130.2 585.7 129.4 586.5 128.8 587.4 128.3 588.5 128.0 589.6 127.6 590.6 127.3 591.5 126.9 592.1 126.6 592.8 126.3 593.5 125.8 594.3 125.2 595.3 124.6 596.3 124.0 597.3 123.3 598.3 122.6 599.2 121.9 600.0 121.2 600.8 120.7 601.6 120.3 602.4 119.9 603.3 119.5 604.1 119.1 604.8 118.7 605.3 118.4 605.8 118.1 606.1 117.6 606.1 117.0 606.0 116.2 605.6 115.3 605.3 114.7 605.0 114.2 604.8 113.8 604.6 113.5 604.3 113.1 604.0 112.7 603.5 112.3 602.8 111.9 601.7 111.6 600.2 111.3 598.5 111.2 596.6 111.0 594.5 110.7 592.5 110.4 590.4 110.0 588.5 109.8 586.4 109.7 584.2 109.7 581.7 109.7 579.1 109.7 576.5 109.6 574.2 109.6 572.2 109.5 570.4 109.5 568.9 109.5 567.8 109.7 566.8 109.9 565.9 110.3 564.8 110.8 563.5 111.3 562.2 111.8 561.1 112.2 560.3Z" fill="none" stroke="#000" stroke-width="1.25" stroke-linejoin="round"/>
<path d="M115.0 562.7 115.5 562.2 116.0 561.9 116.5 561.7 116.9 561.6 117.1 561.4 117.4 561.3 117.7 561.1 118.3 561.0 119.1 561.0 119.9 561.1 120.5 561.1 120.8 561.2 120.9 561.4 121.1 561.8 121.5 562.3 122.0 563.0 122.6 563.7 123.0 564.5 123.2 565.4 123.5 566.4 123.7 567.6 124.0 568.9 124.1 570.2 124.1 571.4 124.0 572.5 123.9 573.8 123.9 575.3 123.9 577.0 123.8 578.8 123.5 580.6 123.2 582.3 122.9 583.9 122.7 585.5 122.7 587.0 122.8 588.5 122.7 590.0 122.4 591.3 121.9 592.5 121.4 593.6 120.7 594.7 120.1 595.7 119.6 596.7 119.1 597.5 118.6 598.3 118.2 598.9 117.7 599.5 117.3 600.0 116.8 600.3 116.3 600.3 115.8 600.1 115.3 599.9 114.8 599.6 114.2 599.0 113.5 598.1 113.1 596.9 112.8 595.6 112.8 594.1 112.7 592.5 112.4 590.8 111.9 589.1 111.5 587.4 111.1 585.6 110.9 583.7 110.7 581.8 110.5 579.7 110.6 577.8 110.7 575.9 110.9 574.1 111.1 572.3 111.2 570.7 111.4 569.3 111.7 568.1 112.1 567.1 112.6 566.1 113.2 565.1 113.9 564.2 114.5 563.3Z" fill="none" stroke="#000" stroke-width="1.25" stroke-linejoin="round"/>
<path d="M126.4 562.1 127.1 561.7 128.2 561.4 129.4 561.1 130.7 560.8 131.8 560.5 132.8 560.0 133.8 559.4 134.9 558.7 136.1 557.9 137.3 557.1 138.3 556.4 139.2 555.9 140.1 555.4 141.0 554.9 142.0 554.1 143.3 553.2 144.7 552.3 146.2 551.5 147.6 550.9 148.8 550.4 149.8 550.1 150.8 549.7 151.9 549.2 153.1 548.7 154.2 548.2 155.3 547.8 156.3 547.5 157.2 547.4 158.1 547.4 158.8 547.5 159.4 547.7 160.0 547.9 160.6 548.3 161.3 548.8 161.8 549.2 162.2 549.7 162.5 550.2 162.8 550.8 163.0 551.7 163.0 552.6 163.0 553.5 162.8 554.4 162.4 555.1 161.9 555.7 161.3 556.3 160.7 556.8 160.2 557.5 159.9 558.3 159.6 559.2 159.3 560.0 158.7 560.9 157.9 561.9 156.8 562.9 155.7 563.8 154.7 564.4 153.9 564.9 153.2 565.4 152.5 565.9 151.7 566.5 150.7 567.2 149.6 567.9 148.4 568.4 147.2 568.9 146.2 569.4 145.3 570.0 144.4 570.7 143.5 571.6 142.4 572.4 141.3 573.2 140.1 573.8 138.9 574.2 137.7 574.4 136.8 574.7 136.1 575.1 135.5 575.5 134.8 576.1 134.2 576.6 133.4 577.1 132.6 577.5 131.8 578.1 130.9 578.7 130.0 579.4 129.3 579.9 128.8 580.1 128.5 580.3 128.3 580.3 128.0 580.1 127.6 579.7 127.1 578.9 126.7 578.0 126.3 576.7 126.1 575.1 125.9 573.2 125.7 571.4 125.4 569.7 125.4 568.2 125.5 566.9 125.7 565.5 125.8 564.4 125.9 563.4 126.0 562.6Z" fill="none" stroke="#000" stroke-width="1.25" stroke-linejoin="round"/>
<path d="M114.2 565.8 114.7 565.1 115.2 564.3 115.7 563.7 116.3 563.2 116.8 562.8 117.2 562.6 117.6 562.4 118.1 562.3 118.7 562.2 119.3 562.3 119.9 562.6 120.3 563.0 120.8 563.4 121.3 563.6 122.0 563.8 122.7 564.2 123.3 565.1 123.7 566.4 123.8 568.3 123.7 570.6 123.5 573.1 123.2 575.7 122.8 578.4 122.6 580.8 122.6 583.1 122.8 585.2 123.0 587.1 123.0 588.7 122.9 590.2 122.6 591.5 122.2 592.8 121.8 594.0 121.3 595.2 120.8 596.2 120.1 596.9 119.4 597.4 118.6 597.6 117.9 597.7 117.3 597.6 116.8 597.3 116.3 596.9 116.0 596.3 115.7 595.6 115.4 594.8 114.9 593.9 114.4 593.0 113.8 591.8 113.3 590.5 112.9 588.8 112.6 586.8 112.4 584.7 112.4 582.5 112.4 580.3 112.6 578.3 112.8 576.7 112.9 575.3 113.0 574.1 113.1 572.9 113.2 571.7 113.2 570.5 113.2 569.3 113.2 568.3 113.2 567.6 113.4 566.9 113.8 566.4Z" fill="none" stroke="#000" stroke-width="1.0" stroke-linejoin="round"/>
<path d="M127.7 562.8 128.2 562.0 129.0 561.7 130.0 561.5 131.2 561.3 132.6 560.9 133.9 560.3 135.3 559.6 136.5 558.9 137.5 558.3 138.4 557.7 139.4 557.1 140.5 556.4 141.6 555.7 142.9 555.0 144.1 554.1 145.2 553.2 146.4 552.4 147.6 551.7 148.9 551.1 150.2 550.6 151.5 550.2 152.8 549.7 154.0 549.2 155.1 548.9 155.9 548.8 156.8 548.6 157.6 548.5 158.5 548.3 159.4 548.3 160.1 548.4 160.5 548.9 160.7 549.5 160.8 550.2 160.8 551.0 160.9 551.8 160.9 552.7 160.9 553.6 160.9 554.7 160.8 555.8 160.5 556.9 160.0 558.0 159.3 558.9 158.5 559.6 157.7 560.2 156.8 560.8 156.0 561.5 155.1 562.4 154.3 563.2 153.4 564.1 152.4 564.7 151.4 565.2 150.4 565.6 149.2 565.9 148.0 566.4 146.7 567.0 145.4 567.7 144.2 568.4 143.0 569.2 141.8 570.0 140.7 570.7 139.6 571.3 138.6 571.8 137.7 572.3 136.7 572.8 135.6 573.5 134.6 574.1 133.6 574.8 132.6 575.5 131.7 576.3 131.0 576.9 130.3 577.2 129.7 577.4 129.0 577.2 128.3 577.0 127.7 576.6 127.0 576.0 126.5 575.1 126.2 573.9 126.0 572.3 126.0 570.3 126.3 568.2 126.7 566.0 127.2 564.2Z" fill="none" stroke="#000" stroke-width="1.0" stroke-linejoin="round"/>
<path d="M114.6 571.2V591.4M121.4 569.0V589.9" stroke="#fff" stroke-width="0.7" stroke-dasharray="2 3.2 1.2 2.6 2.8 2" fill="none"/>
<path d="M352.7 569.5 353.0 568.2 353.5 567.5 354.2 567.4 354.7 567.6 355.2 568.0 355.5 568.3 355.8 568.2 356.1 568.0 356.5 567.8 356.8 567.8 357.0 568.3 357.1 569.5 357.4 571.3 357.6 573.6 357.9 576.1 358.2 578.7 358.4 581.3 358.5 583.6 358.5 586.0 358.5 588.6 358.3 591.3 358.1 593.9 357.9 596.0 357.7 597.6 357.4 598.5 357.0 598.9 356.5 599.0 356.1 598.9 355.7 598.7 355.2 598.5 354.7 598.4 354.2 598.3 353.7 598.1 353.6 597.6 353.7 596.8 354.0 595.6 354.0 594.0 353.8 592.0 353.4 589.8 353.0 587.6 352.7 585.4 352.6 583.3 352.6 581.2 352.6 578.8 352.7 576.3 352.6 573.8 352.6 571.4Z" fill="#000" stroke="none"/>
<path d="M335.0 573.7 335.5 572.3 336.3 570.8 337.4 569.5 338.7 568.2 340.1 567.1 341.8 565.9 343.6 564.7 345.5 563.4 347.5 562.1 349.6 560.7 351.6 559.4 353.3 558.5 354.6 557.8 355.5 557.3 356.4 556.9 357.6 556.6 359.2 556.6 361.0 556.7 363.0 556.8 365.0 556.8 367.4 556.7 369.9 556.7 372.2 556.7 374.0 556.8 374.9 557.3 375.4 557.9 375.7 558.5 376.3 558.5 377.2 557.9 378.4 556.8 379.7 555.5 381.1 554.3 382.6 553.3 384.1 552.5 385.6 551.8 387.1 551.4 388.8 551.2 390.6 551.2 392.5 551.3 394.2 551.7 395.9 552.3 397.6 553.2 399.1 554.4 400.4 555.7 401.5 557.4 402.5 559.2 403.3 561.1 403.9 562.9 404.4 564.7 404.6 566.5 404.7 568.2 404.6 569.9 404.3 571.6 403.8 573.4 403.1 575.3 402.4 577.2 401.6 579.2 400.7 581.2 399.6 583.1 398.4 585.1 397.3 587.0 396.3 589.0 395.2 590.9 394.2 592.7 393.1 594.3 392.0 595.9 390.8 597.5 389.7 599.2 388.8 601.0 388.0 602.7 387.4 604.4 386.8 606.1 386.4 608.0 386.0 609.9 385.5 612.0 384.8 614.1 384.1 616.4 383.4 618.7 382.7 621.1 382.1 623.4 381.6 625.7 381.0 628.0 380.4 630.3 379.7 632.5 378.9 634.5 378.0 636.5 376.9 638.3 375.8 640.0 374.5 641.4 373.1 642.8 371.6 644.0 370.1 645.0 368.6 645.7 367.0 646.1 365.4 646.2 363.8 645.9 362.2 645.4 360.6 644.7 359.0 643.8 357.7 642.7 356.6 641.5 355.6 640.2 354.7 638.6 353.8 637.0 353.1 635.1 352.5 633.1 352.1 630.7 351.7 628.2 351.3 625.5 351.0 622.7 350.6 620.0 350.3 617.3 349.9 614.7 349.4 612.0 348.9 609.3 348.4 606.7 348.0 604.3 347.6 602.1 347.2 600.0 346.9 598.0 346.6 595.9 346.3 593.7 346.0 591.6 345.5 589.7 345.0 588.1 344.3 586.7 343.4 585.5 342.5 584.4 341.3 583.4 340.1 582.5 338.9 581.8 337.9 581.1 337.2 580.4 336.5 579.8 335.9 579.2 335.4 578.4 335.0 577.4 334.8 576.3 334.7 575.0Z" fill="none" stroke="#000" stroke-width="1.05" stroke-linejoin="round"/>
<path d="M347.1 577.6 346.9 576.0 346.8 574.3 347.0 572.8 347.4 571.3 348.2 569.8 349.2 568.4 350.4 566.8 351.6 565.3 352.8 563.9 354.0 562.7 355.3 561.7 356.8 560.8 358.4 560.2 360.1 559.6 361.9 559.1 363.7 558.8 365.6 558.8 367.6 559.1 369.5 559.4 371.1 559.7 372.4 560.0 373.5 560.3 374.6 560.5 375.9 560.4 377.1 560.0 378.2 559.2 379.4 558.3 380.8 557.5 382.4 556.8 384.2 555.9 386.1 555.2 387.9 554.7 389.8 554.4 391.7 554.4 393.4 554.6 395.0 555.0 396.3 555.7 397.5 556.7 398.7 557.9 399.7 559.2 400.4 560.6 401.0 562.0 401.4 563.5 401.7 565.0 402.0 566.7 402.1 568.4 402.0 570.2 401.8 571.9 401.3 573.8 400.5 575.6 399.5 577.4 398.4 579.3 397.2 581.2 396.1 583.2 394.9 585.2 393.8 587.1 392.8 588.8 391.8 590.4 390.8 592.1 389.6 593.8 388.2 595.8 386.6 597.8 385.0 599.8 383.7 601.6 382.6 603.2 381.8 604.6 381.1 606.0 380.4 607.4 379.7 608.9 378.9 610.3 378.0 611.7 377.0 613.1 376.1 614.5 375.3 615.9 374.7 617.1 374.3 617.9 374.0 618.2 373.8 618.2 373.6 618.1 373.1 618.2 372.5 618.4 371.7 618.6 370.9 619.0 370.3 619.7 370.1 620.8 370.1 622.1 370.2 623.5 370.1 624.7 369.9 625.8 369.5 626.9 369.1 628.0 368.5 629.1 367.8 630.2 366.9 631.2 365.9 632.0 365.0 632.4 363.9 632.5 362.6 632.2 361.3 631.6 360.2 630.7 359.3 629.5 358.6 627.9 357.8 626.1 357.1 624.3 356.5 622.4 356.0 620.4 355.5 618.4 355.0 616.2 354.5 613.9 353.9 611.5 353.2 609.1 352.5 607.0 351.9 605.2 351.4 603.6 351.2 602.1 350.9 600.4 350.7 598.6 350.3 596.7 349.8 594.8 349.2 592.9 348.7 590.9 348.3 588.7 348.0 586.6 347.8 584.6 347.7 582.7 347.5 580.9 347.3 579.3Z" fill="none" stroke="#000" stroke-width="1.05" stroke-linejoin="round"/>
<path d="M348.8 580.9 348.9 578.5 349.0 576.2 349.3 573.9 349.7 571.9 350.3 570.2 351.1 568.8 352.0 567.5 353.0 566.4 354.0 565.4 355.2 564.4 356.5 563.5 357.9 562.7 359.3 562.1 360.8 561.6 362.3 561.2 363.9 561.0 365.5 561.0 367.2 561.2 368.9 561.5 370.6 561.7 372.0 562.1 373.3 562.7 374.6 563.2 375.9 563.4 377.3 563.1 378.6 562.5 380.0 561.6 381.3 560.7 382.8 559.9 384.3 558.9 385.8 558.1 387.3 557.5 388.9 557.3 390.5 557.2 392.2 557.3 393.7 557.6 394.9 558.0 395.9 558.8 396.7 559.7 397.4 560.9 398.0 562.1 398.7 563.5 399.2 564.9 399.6 566.4 399.7 568.0 399.5 569.7 399.0 571.6 398.4 573.4 397.7 575.2 397.0 577.0 396.3 578.8 395.6 580.6 394.6 582.3 393.4 583.9 392.1 585.5 390.8 587.2 389.6 588.9 388.4 590.7 387.3 592.5 386.2 594.2 385.2 595.7 384.2 597.1 383.3 598.2 382.5 599.2 381.6 600.1 380.7 600.9 379.7 601.7 378.8 602.2 377.9 602.4 377.2 602.3 376.7 602.2 376.3 602.4 376.1 603.0 375.9 603.8 375.6 604.7 375.1 605.7 374.4 606.6 373.8 607.6 373.1 608.7 372.4 609.7 371.5 610.7 370.5 611.7 369.3 612.7 368.0 613.6 366.4 614.2 364.7 614.6 362.9 614.8 361.2 614.8 359.7 614.3 358.3 613.6 357.1 612.7 356.1 611.7 355.2 610.8 354.5 609.8 353.8 608.5 353.1 607.0 352.3 605.0 351.5 602.8 350.9 600.5 350.3 598.3 349.9 596.1 349.5 594.0 349.1 591.8 348.8 589.7 348.7 587.6 348.7 585.4 348.7 583.2Z" fill="none" stroke="#000" stroke-width="1.05" stroke-linejoin="round"/>
<path d="M350.2 582.4 350.2 580.1 350.4 577.8 350.8 575.6 351.4 573.6 352.2 572.0 353.1 570.6 353.9 569.4 354.8 568.2 355.7 567.2 356.7 566.2 357.9 565.4 359.1 564.7 360.4 564.2 361.7 563.8 363.0 563.5 364.4 563.4 365.8 563.5 367.3 563.8 368.8 564.4 370.2 565.1 371.5 565.7 372.6 566.5 373.5 567.3 374.1 568.2 374.5 569.3 374.8 570.5 375.1 571.9 375.3 573.3 375.5 574.7 375.7 576.3 375.8 577.9 375.9 579.8 375.9 582.1 375.8 584.6 375.6 587.3 375.4 589.7 375.1 591.8 374.7 593.7 374.2 595.6 373.6 597.3 372.9 599.1 372.2 600.7 371.4 602.4 370.6 604.2 369.7 605.8 368.7 607.4 367.7 608.7 366.6 609.8 365.5 610.5 364.4 611.1 363.2 611.4 362.1 611.5 360.9 611.4 359.7 611.0 358.6 610.6 357.6 610.0 356.9 609.2 356.2 608.2 355.5 607.0 354.8 605.5 354.1 603.9 353.3 602.1 352.5 600.2 351.9 598.1 351.4 596.0 351.1 593.7 350.8 591.7 350.7 589.8 350.5 588.1 350.3 586.4 350.2 584.5Z" fill="none" stroke="#000" stroke-width="1.05" stroke-linejoin="round"/>
<path d="M377.1 575.2 377.3 573.4 377.5 571.5 377.9 569.7 378.5 568.1 379.5 566.7 380.8 565.3 382.1 564.0 383.5 562.9 385.0 562.0 386.6 561.1 388.2 560.5 389.6 560.1 390.9 560.1 392.1 560.4 393.2 560.9 394.0 561.5 394.7 562.4 395.2 563.6 395.5 565.1 395.8 566.7 395.8 568.3 395.6 569.9 395.3 571.5 394.8 573.0 394.2 574.4 393.5 575.8 392.6 577.3 391.5 578.8 390.3 580.4 389.0 582.0 387.7 583.6 386.5 585.3 385.4 586.8 384.3 588.3 383.3 589.7 382.2 590.8 381.1 592.1 380.1 593.3 379.3 594.3 378.5 594.6 377.9 594.1 377.3 593.0 376.7 591.5 376.2 589.8 375.9 588.0 375.7 585.9 375.7 583.8 375.8 581.9 376.0 580.1 376.4 578.5 376.7 576.9Z" fill="none" stroke="#000" stroke-width="1.05" stroke-linejoin="round"/>
<path d="M353.1 583.8 353.3 581.6 353.5 579.3 353.9 577.0 354.3 574.9 354.8 573.2 355.5 571.7 356.2 570.4 357.1 569.2 358.1 568.2 359.2 567.5 360.4 567.0 361.7 566.7 363.0 566.6 364.2 566.6 365.5 566.7 366.7 566.9 367.8 567.2 368.8 567.8 369.7 568.7 370.5 569.7 371.1 571.0 371.6 572.3 371.9 573.8 372.2 575.3 372.5 577.1 372.7 579.1 373.0 581.2 373.1 583.2 373.2 585.1 373.1 587.0 372.8 588.9 372.5 590.9 372.1 592.8 371.4 594.7 370.7 596.5 369.9 598.2 369.0 599.9 368.1 601.6 367.3 603.1 366.4 604.3 365.3 605.1 364.0 605.7 362.6 606.1 361.2 606.3 360.0 606.1 359.0 605.6 358.1 604.8 357.3 603.9 356.5 602.9 355.9 601.7 355.3 600.3 354.8 598.8 354.3 597.1 353.9 595.2 353.5 593.2 353.3 591.2 353.1 589.3 353.0 587.5 353.0 585.7Z" fill="none" stroke="#000" stroke-width="1.05" stroke-linejoin="round"/>
<path d="M377.9 578.2 378.1 576.3 378.5 574.2 379.0 572.1 379.7 570.2 380.5 568.6 381.6 567.1 382.9 565.8 384.2 564.9 385.4 564.2 386.5 563.8 387.6 563.5 388.6 563.4 389.7 563.5 390.7 563.9 391.6 564.3 392.2 564.9 392.6 565.7 392.9 566.8 393.0 567.9 393.0 569.2 392.7 570.5 392.3 571.8 391.8 573.3 391.1 574.7 390.3 576.2 389.4 577.6 388.4 579.0 387.4 580.4 386.3 581.9 385.1 583.4 383.9 584.8 382.9 586.0 381.9 587.0 381.0 587.9 380.2 588.5 379.6 588.5 379.1 587.9 378.7 586.6 378.4 585.1 378.2 583.7 378.1 582.4 378.0 581.1 377.9 579.7Z" fill="none" stroke="#000" stroke-width="1.05" stroke-linejoin="round"/>
<path d="M355.5 584.1 355.5 582.3 355.5 580.4 355.5 578.3 355.9 576.5 356.5 574.9 357.4 573.4 358.4 572.1 359.5 571.0 360.5 570.2 361.5 569.7 362.5 569.4 363.5 569.3 364.5 569.5 365.5 569.8 366.5 570.3 367.4 571.1 368.2 572.1 368.9 573.2 369.6 574.5 370.0 576.0 370.3 577.8 370.4 579.7 370.3 581.7 370.2 583.6 370.1 585.5 369.8 587.3 369.5 589.3 369.0 591.1 368.6 592.9 368.1 594.6 367.6 596.1 367.0 597.4 366.1 598.6 365.1 599.7 364.1 600.7 363.1 601.2 362.2 601.4 361.2 601.2 360.2 600.7 359.3 599.9 358.4 598.9 357.7 597.5 357.1 596.1 356.7 594.7 356.4 593.3 356.2 591.9 356.0 590.5 355.9 589.1 355.7 587.8 355.6 586.6 355.6 585.4Z" fill="none" stroke="#000" stroke-width="1.05" stroke-linejoin="round"/>
<path d="M380.3 577.2 380.8 575.6 381.6 573.8 382.5 571.9 383.5 570.2 384.5 568.9 385.6 567.8 386.7 567.0 387.8 566.5 388.8 566.3 389.8 566.1 390.6 566.2 391.1 566.5 391.3 567.2 391.4 568.2 391.3 569.3 391.0 570.4 390.6 571.5 390.0 572.7 389.3 573.9 388.6 575.0 387.8 576.1 386.8 577.3 385.8 578.4 384.8 579.5 383.9 580.6 382.9 581.7 382.0 582.3 381.3 582.3 380.8 581.5 380.4 580.2 380.2 578.7Z" fill="none" stroke="#000" stroke-width="1.05" stroke-linejoin="round"/>
<path d="M357.6 584.2 357.7 582.4 357.8 580.7 358.0 579.0 358.3 577.6 358.9 576.3 359.6 575.2 360.4 574.3 361.2 573.8 362.0 573.7 362.9 573.7 363.8 574.0 364.8 574.5 365.7 575.3 366.6 576.3 367.4 577.5 367.9 578.9 368.3 580.5 368.5 582.2 368.5 584.0 368.5 585.6 368.4 587.2 368.1 588.7 367.6 590.3 367.1 591.7 366.4 593.0 365.6 594.3 364.7 595.5 363.9 596.4 363.0 596.9 362.1 597.0 361.2 596.9 360.5 596.4 359.9 595.5 359.4 594.4 358.9 593.0 358.5 591.5 358.2 589.8 357.9 587.9 357.7 586.0Z" fill="none" stroke="#000" stroke-width="1.05" stroke-linejoin="round"/>
<path d="M380.7 575.1 381.0 574.2 381.6 573.0 382.5 571.7 383.4 570.5 384.5 569.5 385.7 568.5 386.8 567.8 387.7 567.5 388.2 567.7 388.7 568.4 388.9 569.2 388.9 570.1 388.5 571.0 387.7 572.0 386.8 573.1 385.8 574.0 384.8 574.9 383.7 575.7 382.8 576.2 382.1 576.5 381.6 576.5 381.1 576.2 380.8 575.8Z" fill="none" stroke="#000" stroke-width="1.05" stroke-linejoin="round"/>
<path d="M359.5 584.4 359.6 583.1 359.9 581.8 360.3 580.5 360.9 579.3 361.6 578.3 362.4 577.4 363.1 576.8 363.8 576.7 364.4 576.9 365.0 577.6 365.5 578.5 366.0 579.5 366.2 580.8 366.3 582.4 366.2 584.2 366.1 585.9 365.9 587.4 365.5 588.9 365.0 590.1 364.4 591.0 363.8 591.7 363.1 592.1 362.4 592.3 361.8 592.3 361.2 591.9 360.7 591.2 360.3 590.4 359.9 589.5 359.7 588.4 359.6 587.0 359.5 585.7Z" fill="none" stroke="#000" stroke-width="1.05" stroke-linejoin="round"/>
<path d="M358.8 603.4 359.2 603.0 360.0 602.5 361.1 602.2 362.1 602.1 363.2 602.3 364.3 602.7 365.1 603.3 365.6 603.9 365.4 604.4 364.8 605.0 364.0 605.5 363.1 605.7 362.3 605.6 361.3 605.5 360.6 605.3 360.0 605.2 359.6 604.9 359.2 604.4 358.9 603.9Z" fill="none" stroke="#000" stroke-width="1.05" stroke-linejoin="round"/>
<path d="M355.5 571.2V596.5" stroke="#fff" stroke-width="0.7" stroke-dasharray="1.5 3 2.5 2.2 1 3.5" fill="none"/>
<text x="71.3" y="273.0" font-size="12.5" font-weight="bold" letter-spacing="0.1" stroke="#000" stroke-width="0.35">G1</text>
<text x="70.3" y="308.2" font-size="13" letter-spacing="0.45" stroke="#000" stroke-width="0.3">43%</text>
<text x="125.2" y="273.3" font-size="12.5" font-weight="bold" letter-spacing="0.25" stroke="#000" stroke-width="0.35">S/G2/M</text>
<text x="183.0" y="306.0" font-size="13" letter-spacing="0.45" stroke="#000" stroke-width="0.3">30%</text>
<text x="69.5" y="371.8" font-size="12.5" font-weight="bold" letter-spacing="0.1" stroke="#000" stroke-width="0.35">G0</text>
<text x="69.6" y="401.4" font-size="13" letter-spacing="0.45" stroke="#000" stroke-width="0.3">25%</text>
<text x="322.5" y="274.0" font-size="12.5" font-weight="bold" letter-spacing="0.1" stroke="#000" stroke-width="0.35">G1</text>
<text x="375.5" y="272.3" font-size="12.5" font-weight="bold" letter-spacing="0.25" stroke="#000" stroke-width="0.35">S/G2/M</text>
<text x="325.5" y="304.6" font-size="13" letter-spacing="0.45" stroke="#000" stroke-width="0.3">43%</text>
<text x="429.9" y="303.5" font-size="13" letter-spacing="0.45" stroke="#000" stroke-width="0.3">35%</text>
<text x="320.2" y="372.8" font-size="12.5" font-weight="bold" letter-spacing="0.1" stroke="#000" stroke-width="0.35">G0</text>
<text x="320.9" y="401.4" font-size="13" letter-spacing="0.45" stroke="#000" stroke-width="0.3">20%</text>
<text x="75.8" y="511.9" font-size="12.5" font-weight="bold" letter-spacing="0.1" stroke="#000" stroke-width="0.35">G1</text>
<text x="129.8" y="512.0" font-size="12.5" font-weight="bold" letter-spacing="0.25" stroke="#000" stroke-width="0.35">S/G2/M</text>
<text x="78.2" y="541.7" font-size="13" letter-spacing="0.45" stroke="#000" stroke-width="0.3">33%</text>
<text x="191.3" y="534.2" font-size="13" letter-spacing="0.45" stroke="#000" stroke-width="0.3">56%</text>
<text x="73.5" y="610.0" font-size="12.5" font-weight="bold" letter-spacing="0.1" stroke="#000" stroke-width="0.35">G0</text>
<text x="73.3" y="634.0" font-size="13" letter-spacing="0.45" stroke="#000" stroke-width="0.3">8%</text>
<text x="322.3" y="510.8" font-size="12.5" font-weight="bold" letter-spacing="0.1" stroke="#000" stroke-width="0.35">G1</text>
<text x="379.1" y="511.5" font-size="12.5" font-weight="bold" letter-spacing="0.25" stroke="#000" stroke-width="0.35">S/G2/M</text>
<text x="324.3" y="533.6" font-size="13" letter-spacing="0.45" stroke="#000" stroke-width="0.3">51%</text>
<text x="433.8" y="533.6" font-size="13" letter-spacing="0.45" stroke="#000" stroke-width="0.3">26%</text>
<text x="320.2" y="614.8" font-size="12.5" font-weight="bold" letter-spacing="0.1" stroke="#000" stroke-width="0.35">G0</text>
<text x="319.2" y="639.7" font-size="13" letter-spacing="0.45" stroke="#000" stroke-width="0.3">19%</text>
<text transform="translate(21 158.2) rotate(-90)" font-size="20" font-weight="bold" stroke="#000" stroke-width="0.4">IgG1-PE</text>
<path d="M13.9 200.6V159M13.9 76.5V37" stroke="#000" stroke-width="2.3" fill="none"/>
<path d="M14.2 20.8L14.9 22.5L20.9 38.6H7.6L13.5 22.5Z" fill="#000"/>
<text transform="translate(24.5 501.8) rotate(-90)" font-size="20" font-weight="bold" stroke="#000" stroke-width="0.4">Ki67-PE</text>
<path d="M17.25 664V503M17.25 420.7V274" stroke="#000" stroke-width="2.3" fill="none"/>
<path d="M17.5 256.6L18.2 258.5L24 275.3H11L16.8 258.5Z" fill="#000"/>
<text x="256.8" y="713.7" font-size="20" font-weight="bold" stroke="#000" stroke-width="0.4">7AAD</text>
<path d="M61 708.1H256.4M313.5 708.3H488" stroke="#000" stroke-width="2.2" fill="none"/>
<path d="M486 703.8L505 710L486 716.3Z" fill="#000"/>
</svg>
</body></html>
